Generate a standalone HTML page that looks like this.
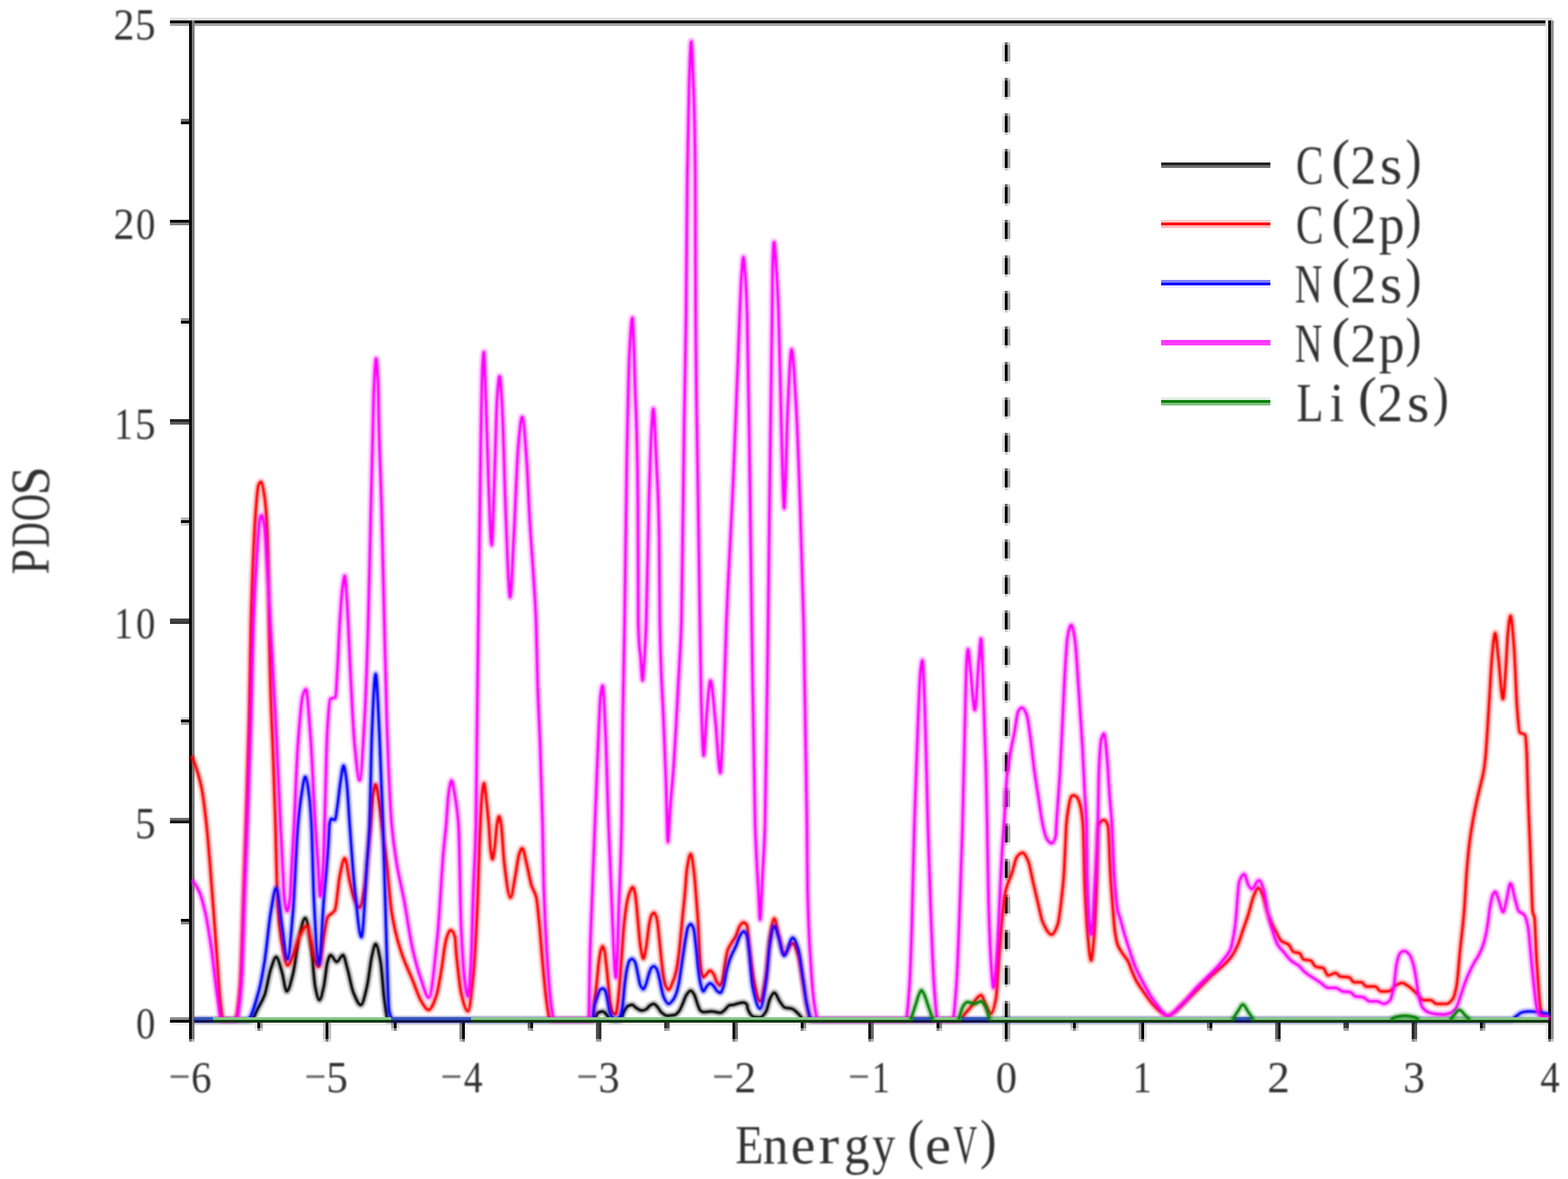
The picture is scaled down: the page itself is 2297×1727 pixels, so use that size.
<!DOCTYPE html>
<html lang="en"><head><meta charset="utf-8"><title>PDOS</title>
<style>html,body{margin:0;padding:0;background:#fff}svg{display:block}text{font-family:"Liberation Serif","Noto Serif CJK SC",serif;fill:#303030}</style></head><body>
<svg xmlns="http://www.w3.org/2000/svg" width="2297" height="1727" viewBox="0 0 2297 1727">
<rect width="2297" height="1727" fill="#fff"/>
<defs><filter id="soft" filterUnits="userSpaceOnUse" x="0" y="0" width="2297" height="1727"><feGaussianBlur stdDeviation="0.8"/></filter></defs>
<g shape-rendering="crispEdges">
<rect x="278.0" y="26.0" width="1995.7" height="4" fill="#dcdcdc"/>
<rect x="278.0" y="30.0" width="1995.7" height="4" fill="#000000"/>
<rect x="278.0" y="34.0" width="1995.7" height="4" fill="#a3a3a3"/>
<rect x="278.0" y="1490.0" width="1995.7" height="4" fill="#868686"/>
<rect x="278.0" y="1494.0" width="1995.7" height="4" fill="#000000"/>
<rect x="278.0" y="1498.0" width="1995.7" height="4" fill="#ececec"/>
<rect x="273.0" y="30.0" width="4" height="1492.0" fill="#f7f7f7"/>
<rect x="277.0" y="30.0" width="4" height="1492.0" fill="#000000"/>
<rect x="281.0" y="30.0" width="4" height="1492.0" fill="#787878"/>
<rect x="273.0" y="1522.0" width="4" height="4.0" fill="#fbfbfb"/>
<rect x="277.0" y="1522.0" width="4" height="4.0" fill="#808080"/>
<rect x="281.0" y="1522.0" width="4" height="4.0" fill="#bbbbbb"/>
<rect x="2264.0" y="30.0" width="4" height="1492.0" fill="#eaeaea"/>
<rect x="2268.0" y="30.0" width="4" height="1492.0" fill="#000000"/>
<rect x="2272.0" y="30.0" width="4" height="1492.0" fill="#919191"/>
<rect x="2264.0" y="1522.0" width="4" height="4.0" fill="#f5f5f5"/>
<rect x="2268.0" y="1522.0" width="4" height="4.0" fill="#808080"/>
<rect x="2272.0" y="1522.0" width="4" height="4.0" fill="#c8c8c8"/>
<rect x="249.0" y="1490.0" width="28.0" height="4" fill="#8c8c8c"/>
<rect x="249.0" y="1494.0" width="28.0" height="4" fill="#000000"/>
<rect x="249.0" y="1498.0" width="28.0" height="4" fill="#f2f2f2"/>
<rect x="265.0" y="1346.0" width="12.0" height="4" fill="#000000"/>
<rect x="265.0" y="1350.0" width="12.0" height="4" fill="#848484"/>
<rect x="249.0" y="1198.0" width="28.0" height="4" fill="#696969"/>
<rect x="249.0" y="1202.0" width="28.0" height="4" fill="#161616"/>
<rect x="265.0" y="1050.0" width="12.0" height="4" fill="#d7d7d7"/>
<rect x="265.0" y="1054.0" width="12.0" height="4" fill="#000000"/>
<rect x="265.0" y="1058.0" width="12.0" height="4" fill="#a7a7a7"/>
<rect x="249.0" y="906.0" width="28.0" height="4" fill="#464646"/>
<rect x="249.0" y="910.0" width="28.0" height="4" fill="#393939"/>
<rect x="265.0" y="758.0" width="12.0" height="4" fill="#b4b4b4"/>
<rect x="265.0" y="762.0" width="12.0" height="4" fill="#000000"/>
<rect x="265.0" y="766.0" width="12.0" height="4" fill="#cacaca"/>
<rect x="249.0" y="614.0" width="28.0" height="4" fill="#232323"/>
<rect x="249.0" y="618.0" width="28.0" height="4" fill="#5c5c5c"/>
<rect x="265.0" y="466.0" width="12.0" height="4" fill="#919191"/>
<rect x="265.0" y="470.0" width="12.0" height="4" fill="#000000"/>
<rect x="265.0" y="474.0" width="12.0" height="4" fill="#ededed"/>
<rect x="249.0" y="322.0" width="28.0" height="4" fill="#000000"/>
<rect x="249.0" y="326.0" width="28.0" height="4" fill="#808080"/>
<rect x="265.0" y="174.0" width="12.0" height="4" fill="#6e6e6e"/>
<rect x="265.0" y="178.0" width="12.0" height="4" fill="#121212"/>
<rect x="249.0" y="26.0" width="28.0" height="4" fill="#dcdcdc"/>
<rect x="249.0" y="30.0" width="28.0" height="4" fill="#000000"/>
<rect x="249.0" y="34.0" width="28.0" height="4" fill="#a3a3a3"/>
<rect x="373.0" y="1498.0" width="4" height="8.0" fill="#e1e1e1"/>
<rect x="377.0" y="1498.0" width="4" height="8.0" fill="#000000"/>
<rect x="381.0" y="1498.0" width="4" height="8.0" fill="#9d9d9d"/>
<rect x="373.0" y="1506.0" width="4" height="4.0" fill="#f0f0f0"/>
<rect x="377.0" y="1506.0" width="4" height="4.0" fill="#808080"/>
<rect x="381.0" y="1506.0" width="4" height="4.0" fill="#cecece"/>
<rect x="473.0" y="1498.0" width="4" height="24.0" fill="#c4c4c4"/>
<rect x="477.0" y="1498.0" width="4" height="24.0" fill="#000000"/>
<rect x="481.0" y="1498.0" width="4" height="24.0" fill="#bbbbbb"/>
<rect x="473.0" y="1522.0" width="4" height="4.0" fill="#e1e1e1"/>
<rect x="477.0" y="1522.0" width="4" height="4.0" fill="#808080"/>
<rect x="481.0" y="1522.0" width="4" height="4.0" fill="#dddddd"/>
<rect x="573.0" y="1498.0" width="4" height="8.0" fill="#a6a6a6"/>
<rect x="577.0" y="1498.0" width="4" height="8.0" fill="#000000"/>
<rect x="581.0" y="1498.0" width="4" height="8.0" fill="#d8d8d8"/>
<rect x="573.0" y="1506.0" width="4" height="4.0" fill="#d3d3d3"/>
<rect x="577.0" y="1506.0" width="4" height="4.0" fill="#808080"/>
<rect x="581.0" y="1506.0" width="4" height="4.0" fill="#ececec"/>
<rect x="673.0" y="1498.0" width="4" height="24.0" fill="#888888"/>
<rect x="677.0" y="1498.0" width="4" height="24.0" fill="#000000"/>
<rect x="681.0" y="1498.0" width="4" height="24.0" fill="#f6f6f6"/>
<rect x="673.0" y="1522.0" width="4" height="4.0" fill="#c4c4c4"/>
<rect x="677.0" y="1522.0" width="4" height="4.0" fill="#808080"/>
<rect x="681.0" y="1522.0" width="4" height="4.0" fill="#fbfbfb"/>
<rect x="773.0" y="1498.0" width="4" height="8.0" fill="#6b6b6b"/>
<rect x="777.0" y="1498.0" width="4" height="8.0" fill="#151515"/>
<rect x="773.0" y="1506.0" width="4" height="4.0" fill="#b5b5b5"/>
<rect x="777.0" y="1506.0" width="4" height="4.0" fill="#8a8a8a"/>
<rect x="873.0" y="1498.0" width="4" height="24.0" fill="#4d4d4d"/>
<rect x="877.0" y="1498.0" width="4" height="24.0" fill="#323232"/>
<rect x="873.0" y="1522.0" width="4" height="4.0" fill="#a6a6a6"/>
<rect x="877.0" y="1522.0" width="4" height="4.0" fill="#999999"/>
<rect x="973.0" y="1498.0" width="4" height="8.0" fill="#2f2f2f"/>
<rect x="977.0" y="1498.0" width="4" height="8.0" fill="#505050"/>
<rect x="973.0" y="1506.0" width="4" height="4.0" fill="#979797"/>
<rect x="977.0" y="1506.0" width="4" height="4.0" fill="#a8a8a8"/>
<rect x="1073.0" y="1498.0" width="4" height="24.0" fill="#121212"/>
<rect x="1077.0" y="1498.0" width="4" height="24.0" fill="#6e6e6e"/>
<rect x="1073.0" y="1522.0" width="4" height="4.0" fill="#888888"/>
<rect x="1077.0" y="1522.0" width="4" height="4.0" fill="#b6b6b6"/>
<rect x="1169.0" y="1498.0" width="4" height="8.0" fill="#f3f3f3"/>
<rect x="1173.0" y="1498.0" width="4" height="8.0" fill="#000000"/>
<rect x="1177.0" y="1498.0" width="4" height="8.0" fill="#8b8b8b"/>
<rect x="1169.0" y="1506.0" width="4" height="4.0" fill="#f9f9f9"/>
<rect x="1173.0" y="1506.0" width="4" height="4.0" fill="#808080"/>
<rect x="1177.0" y="1506.0" width="4" height="4.0" fill="#c5c5c5"/>
<rect x="1272.0" y="1498.0" width="4" height="24.0" fill="#161616"/>
<rect x="1276.0" y="1498.0" width="4" height="24.0" fill="#696969"/>
<rect x="1272.0" y="1522.0" width="4" height="4.0" fill="#8b8b8b"/>
<rect x="1276.0" y="1522.0" width="4" height="4.0" fill="#b4b4b4"/>
<rect x="1368.0" y="1498.0" width="4" height="8.0" fill="#f8f8f8"/>
<rect x="1372.0" y="1498.0" width="4" height="8.0" fill="#000000"/>
<rect x="1376.0" y="1498.0" width="4" height="8.0" fill="#878787"/>
<rect x="1368.0" y="1506.0" width="4" height="4.0" fill="#fbfbfb"/>
<rect x="1372.0" y="1506.0" width="4" height="4.0" fill="#808080"/>
<rect x="1376.0" y="1506.0" width="4" height="4.0" fill="#c3c3c3"/>
<rect x="1468.0" y="1498.0" width="4" height="24.0" fill="#dadada"/>
<rect x="1472.0" y="1498.0" width="4" height="24.0" fill="#000000"/>
<rect x="1476.0" y="1498.0" width="4" height="24.0" fill="#a4a4a4"/>
<rect x="1468.0" y="1522.0" width="4" height="4.0" fill="#ededed"/>
<rect x="1472.0" y="1522.0" width="4" height="4.0" fill="#808080"/>
<rect x="1476.0" y="1522.0" width="4" height="4.0" fill="#d2d2d2"/>
<rect x="1568.0" y="1498.0" width="4" height="8.0" fill="#bcbcbc"/>
<rect x="1572.0" y="1498.0" width="4" height="8.0" fill="#000000"/>
<rect x="1576.0" y="1498.0" width="4" height="8.0" fill="#c2c2c2"/>
<rect x="1568.0" y="1506.0" width="4" height="4.0" fill="#dedede"/>
<rect x="1572.0" y="1506.0" width="4" height="4.0" fill="#808080"/>
<rect x="1576.0" y="1506.0" width="4" height="4.0" fill="#e1e1e1"/>
<rect x="1668.0" y="1498.0" width="4" height="24.0" fill="#9f9f9f"/>
<rect x="1672.0" y="1498.0" width="4" height="24.0" fill="#000000"/>
<rect x="1676.0" y="1498.0" width="4" height="24.0" fill="#e0e0e0"/>
<rect x="1668.0" y="1522.0" width="4" height="4.0" fill="#cfcfcf"/>
<rect x="1672.0" y="1522.0" width="4" height="4.0" fill="#808080"/>
<rect x="1676.0" y="1522.0" width="4" height="4.0" fill="#efefef"/>
<rect x="1768.0" y="1498.0" width="4" height="8.0" fill="#818181"/>
<rect x="1772.0" y="1498.0" width="4" height="8.0" fill="#000000"/>
<rect x="1768.0" y="1506.0" width="4" height="4.0" fill="#c0c0c0"/>
<rect x="1772.0" y="1506.0" width="4" height="4.0" fill="#808080"/>
<rect x="1868.0" y="1498.0" width="4" height="24.0" fill="#636363"/>
<rect x="1872.0" y="1498.0" width="4" height="24.0" fill="#1c1c1c"/>
<rect x="1868.0" y="1522.0" width="4" height="4.0" fill="#b1b1b1"/>
<rect x="1872.0" y="1522.0" width="4" height="4.0" fill="#8e8e8e"/>
<rect x="1968.0" y="1498.0" width="4" height="8.0" fill="#464646"/>
<rect x="1972.0" y="1498.0" width="4" height="8.0" fill="#3a3a3a"/>
<rect x="1968.0" y="1506.0" width="4" height="4.0" fill="#a2a2a2"/>
<rect x="1972.0" y="1506.0" width="4" height="4.0" fill="#9c9c9c"/>
<rect x="2068.0" y="1498.0" width="4" height="24.0" fill="#282828"/>
<rect x="2072.0" y="1498.0" width="4" height="24.0" fill="#575757"/>
<rect x="2068.0" y="1522.0" width="4" height="4.0" fill="#949494"/>
<rect x="2072.0" y="1522.0" width="4" height="4.0" fill="#ababab"/>
<rect x="2168.0" y="1498.0" width="4" height="8.0" fill="#0b0b0b"/>
<rect x="2172.0" y="1498.0" width="4" height="8.0" fill="#757575"/>
<rect x="2168.0" y="1506.0" width="4" height="4.0" fill="#858585"/>
<rect x="2172.0" y="1506.0" width="4" height="4.0" fill="#bababa"/>
<rect x="1468.0" y="62.0" width="4" height="4.0" fill="#e9e9e9"/>
<rect x="1472.0" y="62.0" width="4" height="4.0" fill="#666666"/>
<rect x="1476.0" y="62.0" width="4" height="4.0" fill="#c9c9c9"/>
<rect x="1468.0" y="66.0" width="4" height="24.0" fill="#dadada"/>
<rect x="1472.0" y="66.0" width="4" height="24.0" fill="#000000"/>
<rect x="1476.0" y="66.0" width="4" height="24.0" fill="#a4a4a4"/>
<rect x="1468.0" y="90.0" width="4" height="4.0" fill="#f8f8f8"/>
<rect x="1472.0" y="90.0" width="4" height="4.0" fill="#cccccc"/>
<rect x="1476.0" y="90.0" width="4" height="4.0" fill="#ededed"/>
<rect x="1468.0" y="114.0" width="4" height="4.0" fill="#e9e9e9"/>
<rect x="1472.0" y="114.0" width="4" height="4.0" fill="#666666"/>
<rect x="1476.0" y="114.0" width="4" height="4.0" fill="#c9c9c9"/>
<rect x="1468.0" y="118.0" width="4" height="24.0" fill="#dadada"/>
<rect x="1472.0" y="118.0" width="4" height="24.0" fill="#000000"/>
<rect x="1476.0" y="118.0" width="4" height="24.0" fill="#a4a4a4"/>
<rect x="1468.0" y="142.0" width="4" height="4.0" fill="#f8f8f8"/>
<rect x="1472.0" y="142.0" width="4" height="4.0" fill="#cccccc"/>
<rect x="1476.0" y="142.0" width="4" height="4.0" fill="#ededed"/>
<rect x="1468.0" y="166.0" width="4" height="4.0" fill="#e9e9e9"/>
<rect x="1472.0" y="166.0" width="4" height="4.0" fill="#666666"/>
<rect x="1476.0" y="166.0" width="4" height="4.0" fill="#c9c9c9"/>
<rect x="1468.0" y="170.0" width="4" height="24.0" fill="#dadada"/>
<rect x="1472.0" y="170.0" width="4" height="24.0" fill="#000000"/>
<rect x="1476.0" y="170.0" width="4" height="24.0" fill="#a4a4a4"/>
<rect x="1468.0" y="194.0" width="4" height="4.0" fill="#f8f8f8"/>
<rect x="1472.0" y="194.0" width="4" height="4.0" fill="#cccccc"/>
<rect x="1476.0" y="194.0" width="4" height="4.0" fill="#ededed"/>
<rect x="1468.0" y="218.0" width="4" height="4.0" fill="#e9e9e9"/>
<rect x="1472.0" y="218.0" width="4" height="4.0" fill="#666666"/>
<rect x="1476.0" y="218.0" width="4" height="4.0" fill="#c9c9c9"/>
<rect x="1468.0" y="222.0" width="4" height="24.0" fill="#dadada"/>
<rect x="1472.0" y="222.0" width="4" height="24.0" fill="#000000"/>
<rect x="1476.0" y="222.0" width="4" height="24.0" fill="#a4a4a4"/>
<rect x="1468.0" y="246.0" width="4" height="4.0" fill="#f8f8f8"/>
<rect x="1472.0" y="246.0" width="4" height="4.0" fill="#cccccc"/>
<rect x="1476.0" y="246.0" width="4" height="4.0" fill="#ededed"/>
<rect x="1468.0" y="270.0" width="4" height="4.0" fill="#e9e9e9"/>
<rect x="1472.0" y="270.0" width="4" height="4.0" fill="#666666"/>
<rect x="1476.0" y="270.0" width="4" height="4.0" fill="#c9c9c9"/>
<rect x="1468.0" y="274.0" width="4" height="24.0" fill="#dadada"/>
<rect x="1472.0" y="274.0" width="4" height="24.0" fill="#000000"/>
<rect x="1476.0" y="274.0" width="4" height="24.0" fill="#a4a4a4"/>
<rect x="1468.0" y="298.0" width="4" height="4.0" fill="#f8f8f8"/>
<rect x="1472.0" y="298.0" width="4" height="4.0" fill="#cccccc"/>
<rect x="1476.0" y="298.0" width="4" height="4.0" fill="#ededed"/>
<rect x="1468.0" y="322.0" width="4" height="4.0" fill="#e9e9e9"/>
<rect x="1472.0" y="322.0" width="4" height="4.0" fill="#666666"/>
<rect x="1476.0" y="322.0" width="4" height="4.0" fill="#c9c9c9"/>
<rect x="1468.0" y="326.0" width="4" height="24.0" fill="#dadada"/>
<rect x="1472.0" y="326.0" width="4" height="24.0" fill="#000000"/>
<rect x="1476.0" y="326.0" width="4" height="24.0" fill="#a4a4a4"/>
<rect x="1468.0" y="350.0" width="4" height="4.0" fill="#f8f8f8"/>
<rect x="1472.0" y="350.0" width="4" height="4.0" fill="#cccccc"/>
<rect x="1476.0" y="350.0" width="4" height="4.0" fill="#ededed"/>
<rect x="1468.0" y="374.0" width="4" height="4.0" fill="#e9e9e9"/>
<rect x="1472.0" y="374.0" width="4" height="4.0" fill="#666666"/>
<rect x="1476.0" y="374.0" width="4" height="4.0" fill="#c9c9c9"/>
<rect x="1468.0" y="378.0" width="4" height="24.0" fill="#dadada"/>
<rect x="1472.0" y="378.0" width="4" height="24.0" fill="#000000"/>
<rect x="1476.0" y="378.0" width="4" height="24.0" fill="#a4a4a4"/>
<rect x="1468.0" y="402.0" width="4" height="4.0" fill="#f8f8f8"/>
<rect x="1472.0" y="402.0" width="4" height="4.0" fill="#cccccc"/>
<rect x="1476.0" y="402.0" width="4" height="4.0" fill="#ededed"/>
<rect x="1468.0" y="426.0" width="4" height="4.0" fill="#e9e9e9"/>
<rect x="1472.0" y="426.0" width="4" height="4.0" fill="#666666"/>
<rect x="1476.0" y="426.0" width="4" height="4.0" fill="#c9c9c9"/>
<rect x="1468.0" y="430.0" width="4" height="24.0" fill="#dadada"/>
<rect x="1472.0" y="430.0" width="4" height="24.0" fill="#000000"/>
<rect x="1476.0" y="430.0" width="4" height="24.0" fill="#a4a4a4"/>
<rect x="1468.0" y="454.0" width="4" height="4.0" fill="#f8f8f8"/>
<rect x="1472.0" y="454.0" width="4" height="4.0" fill="#cccccc"/>
<rect x="1476.0" y="454.0" width="4" height="4.0" fill="#ededed"/>
<rect x="1468.0" y="478.0" width="4" height="4.0" fill="#e9e9e9"/>
<rect x="1472.0" y="478.0" width="4" height="4.0" fill="#666666"/>
<rect x="1476.0" y="478.0" width="4" height="4.0" fill="#c9c9c9"/>
<rect x="1468.0" y="482.0" width="4" height="24.0" fill="#dadada"/>
<rect x="1472.0" y="482.0" width="4" height="24.0" fill="#000000"/>
<rect x="1476.0" y="482.0" width="4" height="24.0" fill="#a4a4a4"/>
<rect x="1468.0" y="506.0" width="4" height="4.0" fill="#f8f8f8"/>
<rect x="1472.0" y="506.0" width="4" height="4.0" fill="#cccccc"/>
<rect x="1476.0" y="506.0" width="4" height="4.0" fill="#ededed"/>
<rect x="1468.0" y="530.0" width="4" height="4.0" fill="#e9e9e9"/>
<rect x="1472.0" y="530.0" width="4" height="4.0" fill="#666666"/>
<rect x="1476.0" y="530.0" width="4" height="4.0" fill="#c9c9c9"/>
<rect x="1468.0" y="534.0" width="4" height="24.0" fill="#dadada"/>
<rect x="1472.0" y="534.0" width="4" height="24.0" fill="#000000"/>
<rect x="1476.0" y="534.0" width="4" height="24.0" fill="#a4a4a4"/>
<rect x="1468.0" y="558.0" width="4" height="4.0" fill="#f8f8f8"/>
<rect x="1472.0" y="558.0" width="4" height="4.0" fill="#cccccc"/>
<rect x="1476.0" y="558.0" width="4" height="4.0" fill="#ededed"/>
<rect x="1468.0" y="582.0" width="4" height="4.0" fill="#e9e9e9"/>
<rect x="1472.0" y="582.0" width="4" height="4.0" fill="#666666"/>
<rect x="1476.0" y="582.0" width="4" height="4.0" fill="#c9c9c9"/>
<rect x="1468.0" y="586.0" width="4" height="24.0" fill="#dadada"/>
<rect x="1472.0" y="586.0" width="4" height="24.0" fill="#000000"/>
<rect x="1476.0" y="586.0" width="4" height="24.0" fill="#a4a4a4"/>
<rect x="1468.0" y="610.0" width="4" height="4.0" fill="#f8f8f8"/>
<rect x="1472.0" y="610.0" width="4" height="4.0" fill="#cccccc"/>
<rect x="1476.0" y="610.0" width="4" height="4.0" fill="#ededed"/>
<rect x="1468.0" y="634.0" width="4" height="4.0" fill="#e9e9e9"/>
<rect x="1472.0" y="634.0" width="4" height="4.0" fill="#666666"/>
<rect x="1476.0" y="634.0" width="4" height="4.0" fill="#c9c9c9"/>
<rect x="1468.0" y="638.0" width="4" height="24.0" fill="#dadada"/>
<rect x="1472.0" y="638.0" width="4" height="24.0" fill="#000000"/>
<rect x="1476.0" y="638.0" width="4" height="24.0" fill="#a4a4a4"/>
<rect x="1468.0" y="662.0" width="4" height="4.0" fill="#f8f8f8"/>
<rect x="1472.0" y="662.0" width="4" height="4.0" fill="#cccccc"/>
<rect x="1476.0" y="662.0" width="4" height="4.0" fill="#ededed"/>
<rect x="1468.0" y="686.0" width="4" height="4.0" fill="#e9e9e9"/>
<rect x="1472.0" y="686.0" width="4" height="4.0" fill="#666666"/>
<rect x="1476.0" y="686.0" width="4" height="4.0" fill="#c9c9c9"/>
<rect x="1468.0" y="690.0" width="4" height="24.0" fill="#dadada"/>
<rect x="1472.0" y="690.0" width="4" height="24.0" fill="#000000"/>
<rect x="1476.0" y="690.0" width="4" height="24.0" fill="#a4a4a4"/>
<rect x="1468.0" y="714.0" width="4" height="4.0" fill="#f8f8f8"/>
<rect x="1472.0" y="714.0" width="4" height="4.0" fill="#cccccc"/>
<rect x="1476.0" y="714.0" width="4" height="4.0" fill="#ededed"/>
<rect x="1468.0" y="738.0" width="4" height="4.0" fill="#e9e9e9"/>
<rect x="1472.0" y="738.0" width="4" height="4.0" fill="#666666"/>
<rect x="1476.0" y="738.0" width="4" height="4.0" fill="#c9c9c9"/>
<rect x="1468.0" y="742.0" width="4" height="24.0" fill="#dadada"/>
<rect x="1472.0" y="742.0" width="4" height="24.0" fill="#000000"/>
<rect x="1476.0" y="742.0" width="4" height="24.0" fill="#a4a4a4"/>
<rect x="1468.0" y="766.0" width="4" height="4.0" fill="#f8f8f8"/>
<rect x="1472.0" y="766.0" width="4" height="4.0" fill="#cccccc"/>
<rect x="1476.0" y="766.0" width="4" height="4.0" fill="#ededed"/>
<rect x="1468.0" y="790.0" width="4" height="4.0" fill="#e9e9e9"/>
<rect x="1472.0" y="790.0" width="4" height="4.0" fill="#666666"/>
<rect x="1476.0" y="790.0" width="4" height="4.0" fill="#c9c9c9"/>
<rect x="1468.0" y="794.0" width="4" height="24.0" fill="#dadada"/>
<rect x="1472.0" y="794.0" width="4" height="24.0" fill="#000000"/>
<rect x="1476.0" y="794.0" width="4" height="24.0" fill="#a4a4a4"/>
<rect x="1468.0" y="818.0" width="4" height="4.0" fill="#f8f8f8"/>
<rect x="1472.0" y="818.0" width="4" height="4.0" fill="#cccccc"/>
<rect x="1476.0" y="818.0" width="4" height="4.0" fill="#ededed"/>
<rect x="1468.0" y="842.0" width="4" height="4.0" fill="#e9e9e9"/>
<rect x="1472.0" y="842.0" width="4" height="4.0" fill="#666666"/>
<rect x="1476.0" y="842.0" width="4" height="4.0" fill="#c9c9c9"/>
<rect x="1468.0" y="846.0" width="4" height="24.0" fill="#dadada"/>
<rect x="1472.0" y="846.0" width="4" height="24.0" fill="#000000"/>
<rect x="1476.0" y="846.0" width="4" height="24.0" fill="#a4a4a4"/>
<rect x="1468.0" y="870.0" width="4" height="4.0" fill="#f8f8f8"/>
<rect x="1472.0" y="870.0" width="4" height="4.0" fill="#cccccc"/>
<rect x="1476.0" y="870.0" width="4" height="4.0" fill="#ededed"/>
<rect x="1468.0" y="894.0" width="4" height="4.0" fill="#e9e9e9"/>
<rect x="1472.0" y="894.0" width="4" height="4.0" fill="#666666"/>
<rect x="1476.0" y="894.0" width="4" height="4.0" fill="#c9c9c9"/>
<rect x="1468.0" y="898.0" width="4" height="24.0" fill="#dadada"/>
<rect x="1472.0" y="898.0" width="4" height="24.0" fill="#000000"/>
<rect x="1476.0" y="898.0" width="4" height="24.0" fill="#a4a4a4"/>
<rect x="1468.0" y="922.0" width="4" height="4.0" fill="#f8f8f8"/>
<rect x="1472.0" y="922.0" width="4" height="4.0" fill="#cccccc"/>
<rect x="1476.0" y="922.0" width="4" height="4.0" fill="#ededed"/>
<rect x="1468.0" y="946.0" width="4" height="4.0" fill="#e9e9e9"/>
<rect x="1472.0" y="946.0" width="4" height="4.0" fill="#666666"/>
<rect x="1476.0" y="946.0" width="4" height="4.0" fill="#c9c9c9"/>
<rect x="1468.0" y="950.0" width="4" height="24.0" fill="#dadada"/>
<rect x="1472.0" y="950.0" width="4" height="24.0" fill="#000000"/>
<rect x="1476.0" y="950.0" width="4" height="24.0" fill="#a4a4a4"/>
<rect x="1468.0" y="974.0" width="4" height="4.0" fill="#f8f8f8"/>
<rect x="1472.0" y="974.0" width="4" height="4.0" fill="#cccccc"/>
<rect x="1476.0" y="974.0" width="4" height="4.0" fill="#ededed"/>
<rect x="1468.0" y="998.0" width="4" height="4.0" fill="#e9e9e9"/>
<rect x="1472.0" y="998.0" width="4" height="4.0" fill="#666666"/>
<rect x="1476.0" y="998.0" width="4" height="4.0" fill="#c9c9c9"/>
<rect x="1468.0" y="1002.0" width="4" height="24.0" fill="#dadada"/>
<rect x="1472.0" y="1002.0" width="4" height="24.0" fill="#000000"/>
<rect x="1476.0" y="1002.0" width="4" height="24.0" fill="#a4a4a4"/>
<rect x="1468.0" y="1026.0" width="4" height="4.0" fill="#f8f8f8"/>
<rect x="1472.0" y="1026.0" width="4" height="4.0" fill="#cccccc"/>
<rect x="1476.0" y="1026.0" width="4" height="4.0" fill="#ededed"/>
<rect x="1468.0" y="1050.0" width="4" height="4.0" fill="#e9e9e9"/>
<rect x="1472.0" y="1050.0" width="4" height="4.0" fill="#666666"/>
<rect x="1476.0" y="1050.0" width="4" height="4.0" fill="#c9c9c9"/>
<rect x="1468.0" y="1054.0" width="4" height="24.0" fill="#dadada"/>
<rect x="1472.0" y="1054.0" width="4" height="24.0" fill="#000000"/>
<rect x="1476.0" y="1054.0" width="4" height="24.0" fill="#a4a4a4"/>
<rect x="1468.0" y="1078.0" width="4" height="4.0" fill="#f8f8f8"/>
<rect x="1472.0" y="1078.0" width="4" height="4.0" fill="#cccccc"/>
<rect x="1476.0" y="1078.0" width="4" height="4.0" fill="#ededed"/>
<rect x="1468.0" y="1102.0" width="4" height="4.0" fill="#e9e9e9"/>
<rect x="1472.0" y="1102.0" width="4" height="4.0" fill="#666666"/>
<rect x="1476.0" y="1102.0" width="4" height="4.0" fill="#c9c9c9"/>
<rect x="1468.0" y="1106.0" width="4" height="24.0" fill="#dadada"/>
<rect x="1472.0" y="1106.0" width="4" height="24.0" fill="#000000"/>
<rect x="1476.0" y="1106.0" width="4" height="24.0" fill="#a4a4a4"/>
<rect x="1468.0" y="1130.0" width="4" height="4.0" fill="#f8f8f8"/>
<rect x="1472.0" y="1130.0" width="4" height="4.0" fill="#cccccc"/>
<rect x="1476.0" y="1130.0" width="4" height="4.0" fill="#ededed"/>
<rect x="1468.0" y="1154.0" width="4" height="4.0" fill="#e9e9e9"/>
<rect x="1472.0" y="1154.0" width="4" height="4.0" fill="#666666"/>
<rect x="1476.0" y="1154.0" width="4" height="4.0" fill="#c9c9c9"/>
<rect x="1468.0" y="1158.0" width="4" height="24.0" fill="#dadada"/>
<rect x="1472.0" y="1158.0" width="4" height="24.0" fill="#000000"/>
<rect x="1476.0" y="1158.0" width="4" height="24.0" fill="#a4a4a4"/>
<rect x="1468.0" y="1182.0" width="4" height="4.0" fill="#f8f8f8"/>
<rect x="1472.0" y="1182.0" width="4" height="4.0" fill="#cccccc"/>
<rect x="1476.0" y="1182.0" width="4" height="4.0" fill="#ededed"/>
<rect x="1468.0" y="1206.0" width="4" height="4.0" fill="#e9e9e9"/>
<rect x="1472.0" y="1206.0" width="4" height="4.0" fill="#666666"/>
<rect x="1476.0" y="1206.0" width="4" height="4.0" fill="#c9c9c9"/>
<rect x="1468.0" y="1210.0" width="4" height="24.0" fill="#dadada"/>
<rect x="1472.0" y="1210.0" width="4" height="24.0" fill="#000000"/>
<rect x="1476.0" y="1210.0" width="4" height="24.0" fill="#a4a4a4"/>
<rect x="1468.0" y="1234.0" width="4" height="4.0" fill="#f8f8f8"/>
<rect x="1472.0" y="1234.0" width="4" height="4.0" fill="#cccccc"/>
<rect x="1476.0" y="1234.0" width="4" height="4.0" fill="#ededed"/>
<rect x="1468.0" y="1258.0" width="4" height="4.0" fill="#e9e9e9"/>
<rect x="1472.0" y="1258.0" width="4" height="4.0" fill="#666666"/>
<rect x="1476.0" y="1258.0" width="4" height="4.0" fill="#c9c9c9"/>
<rect x="1468.0" y="1262.0" width="4" height="24.0" fill="#dadada"/>
<rect x="1472.0" y="1262.0" width="4" height="24.0" fill="#000000"/>
<rect x="1476.0" y="1262.0" width="4" height="24.0" fill="#a4a4a4"/>
<rect x="1468.0" y="1286.0" width="4" height="4.0" fill="#f8f8f8"/>
<rect x="1472.0" y="1286.0" width="4" height="4.0" fill="#cccccc"/>
<rect x="1476.0" y="1286.0" width="4" height="4.0" fill="#ededed"/>
<rect x="1468.0" y="1310.0" width="4" height="4.0" fill="#e9e9e9"/>
<rect x="1472.0" y="1310.0" width="4" height="4.0" fill="#666666"/>
<rect x="1476.0" y="1310.0" width="4" height="4.0" fill="#c9c9c9"/>
<rect x="1468.0" y="1314.0" width="4" height="24.0" fill="#dadada"/>
<rect x="1472.0" y="1314.0" width="4" height="24.0" fill="#000000"/>
<rect x="1476.0" y="1314.0" width="4" height="24.0" fill="#a4a4a4"/>
<rect x="1468.0" y="1338.0" width="4" height="4.0" fill="#f8f8f8"/>
<rect x="1472.0" y="1338.0" width="4" height="4.0" fill="#cccccc"/>
<rect x="1476.0" y="1338.0" width="4" height="4.0" fill="#ededed"/>
<rect x="1468.0" y="1362.0" width="4" height="4.0" fill="#e9e9e9"/>
<rect x="1472.0" y="1362.0" width="4" height="4.0" fill="#666666"/>
<rect x="1476.0" y="1362.0" width="4" height="4.0" fill="#c9c9c9"/>
<rect x="1468.0" y="1366.0" width="4" height="24.0" fill="#dadada"/>
<rect x="1472.0" y="1366.0" width="4" height="24.0" fill="#000000"/>
<rect x="1476.0" y="1366.0" width="4" height="24.0" fill="#a4a4a4"/>
<rect x="1468.0" y="1390.0" width="4" height="4.0" fill="#f8f8f8"/>
<rect x="1472.0" y="1390.0" width="4" height="4.0" fill="#cccccc"/>
<rect x="1476.0" y="1390.0" width="4" height="4.0" fill="#ededed"/>
<rect x="1468.0" y="1414.0" width="4" height="4.0" fill="#e9e9e9"/>
<rect x="1472.0" y="1414.0" width="4" height="4.0" fill="#666666"/>
<rect x="1476.0" y="1414.0" width="4" height="4.0" fill="#c9c9c9"/>
<rect x="1468.0" y="1418.0" width="4" height="24.0" fill="#dadada"/>
<rect x="1472.0" y="1418.0" width="4" height="24.0" fill="#000000"/>
<rect x="1476.0" y="1418.0" width="4" height="24.0" fill="#a4a4a4"/>
<rect x="1468.0" y="1442.0" width="4" height="4.0" fill="#f8f8f8"/>
<rect x="1472.0" y="1442.0" width="4" height="4.0" fill="#cccccc"/>
<rect x="1476.0" y="1442.0" width="4" height="4.0" fill="#ededed"/>
<rect x="1468.0" y="1466.0" width="4" height="4.0" fill="#e9e9e9"/>
<rect x="1472.0" y="1466.0" width="4" height="4.0" fill="#666666"/>
<rect x="1476.0" y="1466.0" width="4" height="4.0" fill="#c9c9c9"/>
<rect x="1468.0" y="1470.0" width="4" height="24.0" fill="#dadada"/>
<rect x="1472.0" y="1470.0" width="4" height="24.0" fill="#000000"/>
<rect x="1476.0" y="1470.0" width="4" height="24.0" fill="#a4a4a4"/>
</g>
<g filter="url(#soft)">
<g fill="none" stroke-linejoin="round" stroke-linecap="butt">
<path stroke="#000000" stroke-width="11.0" stroke-opacity="0.22" d="M284.5,1494.0C312.2,1494.0 339.9,1494.0 367.6,1494.0C371.3,1494.0 374.9,1482.4 378.5,1475.8C381.5,1470.3 384.5,1465.9 387.5,1457.7C390.6,1449.6 393.6,1428.5 396.6,1419.8C399.3,1411.9 402.0,1401.7 404.7,1401.7C407.4,1401.7 410.1,1414.7 412.9,1423.4C415.3,1431.1 417.7,1452.3 420.1,1452.3C423.1,1452.3 426.1,1438.5 429.1,1427.0C432.1,1415.5 435.2,1385.1 438.2,1372.7C441.2,1360.4 444.2,1344.7 447.2,1344.7C450.2,1344.7 453.2,1369.9 456.3,1390.8C458.1,1403.4 459.9,1436.3 461.7,1445.1C463.8,1455.3 465.9,1465.0 468.0,1465.0C470.1,1465.0 472.2,1454.2 474.3,1445.1C476.1,1437.3 478.0,1414.8 479.8,1408.9C481.3,1404.0 482.8,1399.0 484.3,1399.0C487.3,1399.0 490.3,1408.9 493.3,1408.9C496.3,1408.9 499.4,1399.0 502.4,1399.0C504.5,1399.0 506.6,1410.8 508.7,1418.0C511.7,1428.2 514.7,1446.9 517.7,1454.1C521.4,1462.7 525.0,1472.2 528.6,1472.2C531.6,1472.2 534.6,1457.5 537.6,1445.1C540.0,1435.2 542.5,1409.9 544.9,1399.9C546.7,1392.4 548.5,1382.7 550.3,1382.7C552.7,1382.7 555.1,1395.8 557.5,1408.9C559.3,1418.8 561.1,1450.1 562.9,1463.2C564.8,1476.3 566.6,1494.0 568.4,1494.0C668.8,1494.0 769.3,1494.0 869.8,1494.0C871.9,1494.0 874.1,1484.8 876.3,1483.6C878.4,1482.4 880.6,1481.4 882.8,1481.4C884.6,1481.4 886.4,1484.0 888.2,1485.8C890.4,1487.9 892.5,1494.0 894.7,1494.0C899.4,1494.0 904.1,1494.0 908.8,1494.0C910.6,1494.0 912.4,1484.6 914.2,1481.4C916.1,1478.3 917.9,1474.8 919.7,1473.8C921.8,1472.6 924.0,1471.7 926.2,1471.7C928.0,1471.7 929.8,1474.9 931.6,1476.0C934.5,1477.8 937.4,1480.3 940.3,1480.3C942.5,1480.3 944.6,1479.3 946.8,1478.2C948.6,1477.2 950.4,1473.8 952.2,1472.7C954.0,1471.7 955.8,1470.6 957.6,1470.6C959.5,1470.6 961.3,1473.1 963.1,1474.9C964.9,1476.8 966.7,1480.9 968.5,1482.5C971.4,1485.1 974.3,1487.9 977.2,1487.9C980.8,1487.9 984.4,1487.5 988.0,1486.8C990.2,1486.4 992.4,1484.0 994.5,1481.4C996.3,1479.3 998.2,1474.5 1000.0,1470.6C1001.8,1466.6 1003.6,1460.1 1005.4,1457.6C1007.6,1454.5 1009.7,1451.0 1011.9,1451.0C1013.7,1451.0 1015.5,1454.4 1017.3,1457.6C1018.8,1460.1 1020.2,1466.9 1021.7,1470.6C1023.1,1474.3 1024.6,1479.2 1026.0,1480.3C1027.4,1481.5 1028.9,1482.5 1030.3,1482.5C1034.3,1482.5 1038.3,1481.4 1042.3,1481.4C1046.6,1481.4 1051.0,1483.6 1055.3,1483.6C1057.5,1483.6 1059.6,1481.0 1061.8,1479.3C1064.0,1477.5 1066.1,1473.4 1068.3,1472.7C1070.5,1472.1 1072.7,1472.1 1074.8,1471.7C1077.4,1471.1 1079.9,1470.0 1082.4,1469.5C1084.6,1469.0 1086.8,1468.4 1088.9,1468.4C1090.7,1468.4 1092.5,1469.2 1094.3,1471.7C1094.7,1472.1 1095.0,1476.8 1095.3,1477.6C1098.3,1485.5 1101.3,1488.8 1104.4,1489.4C1107.4,1489.9 1110.4,1490.3 1113.4,1490.3C1116.4,1490.3 1119.4,1486.1 1122.4,1481.2C1124.2,1478.3 1126.1,1466.8 1127.9,1463.2C1130.0,1458.9 1132.1,1454.1 1134.2,1454.1C1136.9,1454.1 1139.6,1463.0 1142.3,1466.8C1144.7,1470.1 1147.2,1475.1 1149.6,1475.8C1153.2,1476.9 1156.8,1476.6 1160.4,1477.6C1163.4,1478.5 1166.4,1482.2 1169.5,1484.9C1172.5,1487.6 1175.5,1494.0 1178.5,1494.0C1542.4,1494.0 1906.4,1494.0 2270.3,1494.0"/>
<path stroke="#000000" stroke-width="4.0" d="M284.5,1494.0C312.2,1494.0 339.9,1494.0 367.6,1494.0C371.3,1494.0 374.9,1482.4 378.5,1475.8C381.5,1470.3 384.5,1465.9 387.5,1457.7C390.6,1449.6 393.6,1428.5 396.6,1419.8C399.3,1411.9 402.0,1401.7 404.7,1401.7C407.4,1401.7 410.1,1414.7 412.9,1423.4C415.3,1431.1 417.7,1452.3 420.1,1452.3C423.1,1452.3 426.1,1438.5 429.1,1427.0C432.1,1415.5 435.2,1385.1 438.2,1372.7C441.2,1360.4 444.2,1344.7 447.2,1344.7C450.2,1344.7 453.2,1369.9 456.3,1390.8C458.1,1403.4 459.9,1436.3 461.7,1445.1C463.8,1455.3 465.9,1465.0 468.0,1465.0C470.1,1465.0 472.2,1454.2 474.3,1445.1C476.1,1437.3 478.0,1414.8 479.8,1408.9C481.3,1404.0 482.8,1399.0 484.3,1399.0C487.3,1399.0 490.3,1408.9 493.3,1408.9C496.3,1408.9 499.4,1399.0 502.4,1399.0C504.5,1399.0 506.6,1410.8 508.7,1418.0C511.7,1428.2 514.7,1446.9 517.7,1454.1C521.4,1462.7 525.0,1472.2 528.6,1472.2C531.6,1472.2 534.6,1457.5 537.6,1445.1C540.0,1435.2 542.5,1409.9 544.9,1399.9C546.7,1392.4 548.5,1382.7 550.3,1382.7C552.7,1382.7 555.1,1395.8 557.5,1408.9C559.3,1418.8 561.1,1450.1 562.9,1463.2C564.8,1476.3 566.6,1494.0 568.4,1494.0C668.8,1494.0 769.3,1494.0 869.8,1494.0C871.9,1494.0 874.1,1484.8 876.3,1483.6C878.4,1482.4 880.6,1481.4 882.8,1481.4C884.6,1481.4 886.4,1484.0 888.2,1485.8C890.4,1487.9 892.5,1494.0 894.7,1494.0C899.4,1494.0 904.1,1494.0 908.8,1494.0C910.6,1494.0 912.4,1484.6 914.2,1481.4C916.1,1478.3 917.9,1474.8 919.7,1473.8C921.8,1472.6 924.0,1471.7 926.2,1471.7C928.0,1471.7 929.8,1474.9 931.6,1476.0C934.5,1477.8 937.4,1480.3 940.3,1480.3C942.5,1480.3 944.6,1479.3 946.8,1478.2C948.6,1477.2 950.4,1473.8 952.2,1472.7C954.0,1471.7 955.8,1470.6 957.6,1470.6C959.5,1470.6 961.3,1473.1 963.1,1474.9C964.9,1476.8 966.7,1480.9 968.5,1482.5C971.4,1485.1 974.3,1487.9 977.2,1487.9C980.8,1487.9 984.4,1487.5 988.0,1486.8C990.2,1486.4 992.4,1484.0 994.5,1481.4C996.3,1479.3 998.2,1474.5 1000.0,1470.6C1001.8,1466.6 1003.6,1460.1 1005.4,1457.6C1007.6,1454.5 1009.7,1451.0 1011.9,1451.0C1013.7,1451.0 1015.5,1454.4 1017.3,1457.6C1018.8,1460.1 1020.2,1466.9 1021.7,1470.6C1023.1,1474.3 1024.6,1479.2 1026.0,1480.3C1027.4,1481.5 1028.9,1482.5 1030.3,1482.5C1034.3,1482.5 1038.3,1481.4 1042.3,1481.4C1046.6,1481.4 1051.0,1483.6 1055.3,1483.6C1057.5,1483.6 1059.6,1481.0 1061.8,1479.3C1064.0,1477.5 1066.1,1473.4 1068.3,1472.7C1070.5,1472.1 1072.7,1472.1 1074.8,1471.7C1077.4,1471.1 1079.9,1470.0 1082.4,1469.5C1084.6,1469.0 1086.8,1468.4 1088.9,1468.4C1090.7,1468.4 1092.5,1469.2 1094.3,1471.7C1094.7,1472.1 1095.0,1476.8 1095.3,1477.6C1098.3,1485.5 1101.3,1488.8 1104.4,1489.4C1107.4,1489.9 1110.4,1490.3 1113.4,1490.3C1116.4,1490.3 1119.4,1486.1 1122.4,1481.2C1124.2,1478.3 1126.1,1466.8 1127.9,1463.2C1130.0,1458.9 1132.1,1454.1 1134.2,1454.1C1136.9,1454.1 1139.6,1463.0 1142.3,1466.8C1144.7,1470.1 1147.2,1475.1 1149.6,1475.8C1153.2,1476.9 1156.8,1476.6 1160.4,1477.6C1163.4,1478.5 1166.4,1482.2 1169.5,1484.9C1172.5,1487.6 1175.5,1494.0 1178.5,1494.0C1542.4,1494.0 1906.4,1494.0 2270.3,1494.0"/>
<path stroke="#ff0000" stroke-width="11.0" stroke-opacity="0.22" d="M280.5,1107.1C283.0,1112.3 285.6,1119.2 288.1,1127.0C290.5,1134.4 292.9,1142.1 295.3,1154.1C297.7,1166.2 300.1,1186.2 302.5,1208.4C305.6,1236.1 308.6,1280.0 311.6,1318.5C313.4,1341.6 315.2,1366.7 317.0,1390.8C318.8,1414.9 320.6,1447.0 322.4,1463.2C323.9,1476.6 325.5,1494.0 327.0,1494.0C332.8,1494.0 338.7,1494.0 344.5,1494.0C346.9,1494.0 349.3,1471.9 351.7,1445.1C353.5,1425.0 355.4,1350.2 357.2,1300.4C358.2,1270.6 359.3,1241.7 360.4,1208.4C361.9,1162.1 363.4,1118.4 364.9,1054.7C365.8,1016.4 366.7,943.7 367.6,910.0C368.9,865.1 370.1,834.9 371.3,808.9C372.5,783.0 373.7,760.5 374.9,745.6C376.1,730.8 377.3,714.4 378.5,711.3C379.7,708.1 380.9,705.8 382.1,705.8C383.9,705.8 385.7,716.2 387.5,727.5C388.7,735.1 390.0,749.2 391.2,772.7C391.9,788.1 392.7,817.8 393.5,863.2C393.7,873.6 393.9,898.8 394.1,910.0C394.9,962.1 395.7,991.4 396.6,1018.5C397.8,1057.2 399.0,1075.7 400.2,1108.9C401.3,1138.8 402.4,1171.2 403.5,1208.4C404.2,1233.1 404.9,1273.4 405.6,1291.4C406.8,1321.3 408.0,1342.7 409.2,1354.7C411.0,1372.7 412.9,1382.1 414.7,1390.8C416.8,1401.0 418.9,1414.3 421.0,1414.3C423.7,1414.3 426.4,1405.9 429.1,1399.9C432.1,1393.2 435.2,1378.8 438.2,1372.7C441.8,1365.4 445.4,1356.5 449.0,1356.5C451.4,1356.5 453.8,1372.1 456.3,1381.8C458.1,1389.1 459.9,1402.7 461.7,1407.1C463.5,1411.5 465.3,1416.1 467.1,1416.1C469.5,1416.1 471.9,1386.3 474.3,1372.7C476.1,1362.6 478.0,1347.1 479.8,1343.8C483.4,1337.2 487.0,1339.6 490.6,1333.0C493.0,1328.5 495.4,1293.6 497.8,1282.3C500.3,1271.1 502.7,1257.0 505.1,1257.0C507.5,1257.0 509.9,1281.3 512.3,1291.4C514.7,1301.5 517.1,1313.3 519.5,1318.5C522.0,1323.7 524.4,1329.3 526.8,1329.3C529.2,1329.3 531.6,1314.5 534.0,1300.4C535.8,1289.9 537.6,1264.7 539.4,1246.2C540.6,1233.8 541.9,1222.1 543.1,1208.4C544.3,1194.6 545.5,1170.5 546.7,1163.2C547.9,1155.9 549.1,1148.7 550.3,1148.7C551.8,1148.7 553.3,1162.7 554.8,1172.2C556.3,1181.7 557.8,1196.5 559.3,1208.4C561.7,1227.3 564.2,1243.2 566.6,1264.2C569.0,1285.3 571.4,1321.6 573.8,1336.6C578.0,1362.9 582.2,1377.3 586.5,1390.8C592.5,1410.2 598.5,1421.2 604.5,1436.0C608.8,1446.4 613.0,1460.2 617.2,1466.8C620.8,1472.4 624.4,1479.4 628.0,1479.4C631.7,1479.4 635.3,1469.5 638.9,1459.5C641.7,1451.9 644.4,1433.8 647.2,1416.9C648.5,1409.2 649.7,1397.2 651.0,1389.7C652.1,1383.4 653.2,1376.5 654.3,1373.5C656.3,1367.9 658.2,1362.6 660.2,1362.6C662.4,1362.6 664.6,1365.4 666.7,1373.5C667.1,1374.8 667.5,1385.3 667.8,1389.7C668.7,1400.9 669.6,1408.9 670.5,1416.9C672.2,1431.1 673.8,1447.2 675.4,1454.1C678.7,1468.2 682.1,1481.2 685.4,1481.2C688.1,1481.2 690.8,1453.6 693.5,1427.0C695.3,1409.3 697.1,1374.7 698.9,1336.6C700.4,1304.9 701.9,1241.6 703.5,1210.0C704.4,1191.1 705.3,1171.2 706.2,1163.2C707.1,1155.1 708.0,1146.9 708.9,1146.9C710.1,1146.9 711.3,1162.3 712.5,1172.2C713.7,1182.1 714.9,1194.2 716.1,1208.4C717.0,1219.0 717.9,1239.8 718.8,1246.2C719.7,1252.5 720.6,1258.8 721.5,1258.8C722.7,1258.8 723.9,1246.5 725.2,1237.1C726.1,1230.1 727.0,1213.6 727.9,1208.4C729.0,1202.1 730.0,1195.7 731.1,1195.7C732.1,1195.7 733.2,1202.2 734.2,1208.4C735.7,1217.4 737.2,1252.1 738.7,1264.2C741.7,1288.5 744.7,1314.9 747.8,1314.9C750.2,1314.9 752.6,1294.5 755.0,1282.3C756.8,1273.2 758.6,1256.9 760.4,1251.6C761.9,1247.2 763.4,1242.5 764.9,1242.5C767.0,1242.5 769.2,1256.1 771.3,1264.2C773.7,1273.6 776.1,1289.0 778.5,1296.8C780.9,1304.5 783.3,1305.0 785.7,1314.9C786.9,1319.8 788.1,1333.9 789.3,1345.6C791.2,1363.2 793.0,1389.4 794.8,1408.9C796.6,1428.4 798.4,1449.7 800.2,1463.2C801.7,1474.4 803.2,1487.7 804.7,1490.3C805.9,1492.3 807.1,1494.0 808.3,1494.0C828.3,1494.0 848.2,1494.0 868.1,1494.0C869.0,1494.0 869.9,1475.5 870.8,1467.3C871.9,1457.5 873.0,1450.1 874.1,1440.2C875.2,1430.3 876.3,1415.2 877.4,1407.6C878.4,1400.1 879.5,1393.3 880.6,1390.3C881.3,1388.2 882.1,1385.9 882.8,1385.9C883.7,1385.9 884.6,1389.2 885.5,1392.5C886.4,1395.8 887.3,1405.3 888.2,1413.1C889.3,1422.4 890.4,1435.8 891.5,1445.6C892.5,1455.5 893.6,1467.6 894.7,1472.7C895.8,1477.9 896.9,1482.5 898.0,1483.6C899.2,1484.8 900.5,1485.8 901.8,1485.8C902.7,1485.8 903.6,1478.5 904.5,1472.7C905.6,1465.8 906.7,1452.6 907.7,1440.2C908.8,1427.8 909.9,1411.3 911.0,1396.8C912.1,1382.3 913.2,1364.0 914.2,1353.4C915.7,1339.3 917.1,1327.8 918.6,1320.8C920.0,1313.9 921.5,1308.8 922.9,1305.7C924.2,1302.8 925.5,1299.5 926.8,1299.5C928.1,1299.5 929.3,1304.6 930.5,1310.0C932.0,1316.3 933.4,1338.9 934.9,1353.4C935.9,1364.2 937.0,1379.3 938.1,1385.9C939.6,1394.7 941.0,1404.4 942.5,1404.4C943.9,1404.4 945.3,1393.8 946.8,1385.9C948.2,1378.1 949.7,1360.8 951.1,1353.4C952.2,1347.8 953.3,1341.9 954.4,1340.4C955.7,1338.6 956.9,1337.1 958.2,1337.1C959.5,1337.1 960.7,1340.6 962.0,1344.7C963.1,1348.2 964.2,1360.3 965.2,1369.7C966.3,1379.1 967.4,1392.4 968.5,1402.2C969.6,1412.1 970.7,1423.2 971.8,1429.3C972.8,1435.5 973.9,1441.0 975.0,1443.4C976.5,1446.7 977.9,1450.0 979.3,1450.0C981.2,1450.0 983.0,1444.3 984.8,1440.2C986.6,1436.1 988.4,1431.3 990.2,1423.9C991.6,1418.0 993.1,1408.0 994.5,1396.8C995.6,1388.4 996.7,1375.1 997.8,1364.2C998.9,1353.4 1000.0,1342.5 1001.0,1331.7C1001.8,1324.5 1002.5,1317.8 1003.2,1310.0C1004.3,1298.8 1005.3,1280.0 1006.3,1273.3C1008.2,1261.7 1010.0,1250.7 1011.8,1250.7C1013.6,1250.7 1015.4,1267.4 1017.2,1282.3C1018.0,1288.6 1018.7,1300.3 1019.5,1310.0C1020.6,1323.7 1021.7,1335.8 1022.7,1353.4C1023.5,1365.1 1024.2,1387.0 1024.9,1396.8C1025.8,1409.0 1026.7,1420.0 1027.6,1423.9C1028.5,1427.9 1029.4,1431.5 1030.3,1431.5C1031.8,1431.5 1033.2,1428.6 1034.7,1427.2C1036.5,1425.4 1038.3,1421.8 1040.1,1421.8C1041.9,1421.8 1043.7,1424.5 1045.5,1427.2C1047.0,1429.3 1048.4,1435.8 1049.9,1438.0C1051.5,1440.5 1053.1,1443.4 1054.7,1443.4C1056.0,1443.4 1057.3,1439.1 1058.5,1434.8C1059.6,1431.0 1060.7,1419.3 1061.8,1413.1C1063.2,1404.7 1064.7,1395.4 1066.1,1391.4C1068.3,1385.4 1070.5,1383.1 1072.7,1379.4C1074.5,1376.4 1076.3,1374.3 1078.1,1370.8C1079.9,1367.2 1081.7,1359.3 1083.5,1356.7C1085.3,1354.0 1087.1,1351.2 1088.9,1351.2C1090.7,1351.2 1092.5,1352.6 1094.3,1355.6C1095.3,1357.1 1096.2,1373.9 1097.1,1381.8C1099.5,1402.3 1101.9,1424.6 1104.4,1436.0C1107.4,1450.3 1110.4,1466.8 1113.4,1466.8C1116.4,1466.8 1119.4,1446.0 1122.4,1427.0C1124.2,1415.6 1126.1,1383.7 1127.9,1372.7C1130.0,1360.0 1132.1,1345.6 1134.2,1345.6C1136.3,1345.6 1138.4,1361.7 1140.5,1369.1C1143.2,1378.7 1145.9,1396.3 1148.7,1396.3C1152.9,1396.3 1157.1,1381.8 1161.3,1381.8C1164.0,1381.8 1166.7,1391.1 1169.5,1399.9C1171.9,1407.7 1174.3,1427.7 1176.7,1441.5C1178.5,1451.8 1180.3,1463.7 1182.1,1472.2C1183.9,1480.7 1185.7,1494.0 1187.5,1494.0C1260.5,1494.0 1333.4,1494.0 1406.3,1494.0C1408.8,1494.0 1411.2,1487.8 1413.6,1484.9C1417.2,1480.5 1420.8,1477.0 1424.4,1472.2C1426.8,1469.0 1429.3,1463.5 1431.7,1461.4C1433.5,1459.7 1435.3,1457.7 1437.1,1457.7C1439.5,1457.7 1441.9,1467.7 1444.3,1472.2C1446.7,1476.7 1449.1,1484.9 1451.6,1484.9C1454.0,1484.9 1456.5,1475.4 1458.9,1463.2C1460.7,1454.2 1462.5,1413.6 1464.4,1390.8C1465.9,1371.8 1467.4,1350.1 1468.9,1336.6C1470.4,1323.0 1471.9,1310.4 1473.4,1304.0C1476.4,1291.3 1479.4,1287.8 1482.4,1278.7C1484.9,1271.4 1487.3,1258.3 1489.7,1255.2C1492.4,1251.8 1495.1,1248.9 1497.8,1248.9C1500.5,1248.9 1503.2,1254.7 1505.9,1260.6C1508.4,1265.9 1510.8,1281.1 1513.2,1291.4C1515.6,1301.6 1518.0,1312.2 1520.4,1322.1C1522.8,1332.1 1525.2,1345.7 1527.6,1351.0C1531.9,1360.3 1536.1,1369.1 1540.3,1369.1C1543.3,1369.1 1546.3,1362.9 1549.3,1354.7C1551.2,1349.7 1553.0,1333.2 1554.8,1318.5C1556.0,1308.7 1557.2,1298.7 1558.4,1282.3C1559.3,1270.1 1560.2,1247.1 1561.1,1228.1C1561.4,1221.8 1561.7,1212.1 1562.0,1208.4C1563.2,1193.5 1564.4,1187.5 1565.6,1181.2C1566.8,1175.0 1568.0,1167.9 1569.2,1166.8C1570.4,1165.7 1571.7,1165.0 1572.9,1165.0C1574.7,1165.0 1576.5,1166.6 1578.3,1168.6C1579.8,1170.2 1581.3,1175.0 1582.8,1181.2C1584.0,1186.2 1585.2,1193.1 1586.4,1208.4C1587.3,1219.8 1588.2,1280.1 1589.1,1300.4C1590.6,1334.2 1592.1,1357.2 1593.7,1372.7C1595.2,1388.3 1596.7,1407.1 1598.2,1407.1C1599.7,1407.1 1601.2,1389.6 1602.7,1372.7C1603.9,1359.2 1605.1,1330.9 1606.3,1300.4C1607.2,1277.5 1608.1,1212.3 1609.0,1210.0C1611.7,1203.2 1614.4,1201.1 1617.2,1201.1C1619.2,1201.1 1621.1,1204.1 1623.1,1210.0C1624.3,1213.6 1625.5,1262.7 1626.7,1282.3C1628.1,1303.9 1629.4,1320.3 1630.7,1336.6C1631.5,1346.0 1632.3,1357.0 1633.0,1362.5C1634.5,1373.0 1635.9,1380.4 1637.4,1384.2C1639.9,1391.0 1642.4,1393.3 1645.0,1397.3C1647.5,1401.2 1650.0,1403.4 1652.5,1408.1C1654.4,1411.5 1656.2,1417.9 1658.0,1422.2C1660.5,1428.2 1663.0,1434.0 1665.6,1438.5C1668.5,1443.6 1671.4,1447.3 1674.2,1451.5C1677.9,1456.8 1681.5,1462.2 1685.1,1466.7C1688.7,1471.2 1692.3,1475.4 1695.9,1478.6C1698.8,1481.2 1701.7,1483.6 1704.6,1485.1C1706.8,1486.3 1709.0,1487.9 1711.1,1487.9C1713.3,1487.9 1715.5,1485.9 1717.6,1484.6C1721.3,1482.4 1724.9,1478.7 1728.5,1475.4C1732.1,1472.1 1735.7,1468.2 1739.3,1464.5C1743.0,1460.9 1746.6,1457.3 1750.2,1453.7C1753.8,1450.1 1757.4,1446.5 1761.0,1442.8C1764.7,1439.2 1768.3,1435.4 1771.9,1432.0C1775.5,1428.6 1779.1,1425.5 1782.7,1422.2C1786.4,1419.0 1790.0,1416.0 1793.6,1412.5C1797.2,1408.9 1800.8,1405.6 1804.4,1400.5C1807.3,1396.5 1810.2,1390.8 1813.1,1384.2C1815.7,1378.5 1818.2,1369.8 1820.7,1362.5C1823.2,1355.3 1825.8,1348.7 1828.3,1340.8C1831.2,1331.9 1834.1,1317.8 1837.0,1311.3C1839.1,1306.5 1841.2,1300.4 1843.3,1300.4C1845.5,1300.4 1847.6,1306.4 1849.7,1311.3C1852.1,1316.8 1854.5,1329.3 1856.9,1336.6C1858.7,1342.0 1860.5,1346.9 1862.3,1351.0C1864.7,1356.6 1867.2,1361.0 1869.6,1365.5C1872.0,1370.0 1874.4,1376.2 1876.8,1378.2C1880.4,1381.1 1884.0,1380.8 1887.6,1383.6C1890.1,1385.5 1892.5,1393.6 1894.9,1394.4C1897.9,1395.5 1900.9,1395.1 1903.9,1396.3C1905.7,1396.9 1907.5,1404.7 1909.3,1405.3C1913.0,1406.5 1916.6,1406.0 1920.2,1407.1C1922.6,1407.9 1925.0,1415.4 1927.4,1416.1C1931.0,1417.3 1934.7,1416.8 1938.3,1418.0C1940.7,1418.7 1943.1,1428.8 1945.5,1428.8C1949.1,1428.8 1952.7,1425.2 1956.4,1425.2C1958.8,1425.2 1961.2,1430.3 1963.6,1430.6C1967.8,1431.2 1972.0,1430.9 1976.3,1431.5C1978.7,1431.9 1981.1,1438.8 1983.5,1438.8C1987.1,1438.8 1990.7,1438.8 1994.3,1438.8C1996.8,1438.8 1999.2,1445.1 2001.6,1445.1C2005.8,1445.1 2010.0,1445.1 2014.2,1445.1C2017.2,1445.1 2020.3,1452.3 2023.3,1452.3C2027.5,1452.3 2031.7,1452.0 2035.9,1451.4C2038.9,1451.0 2042.0,1444.9 2045.0,1443.3C2048.0,1441.6 2051.0,1439.7 2054.0,1439.7C2056.4,1439.7 2058.8,1441.8 2061.2,1443.3C2064.3,1445.1 2067.3,1447.8 2070.3,1450.5C2073.3,1453.2 2076.3,1456.5 2079.3,1459.5C2081.1,1461.4 2082.9,1465.0 2084.8,1465.0C2088.4,1465.0 2092.0,1465.0 2095.6,1465.0C2098.6,1465.0 2101.6,1470.4 2104.6,1470.4C2109.5,1470.4 2114.3,1470.4 2119.1,1470.4C2122.1,1470.4 2125.1,1467.3 2128.2,1463.2C2130.0,1460.7 2131.8,1454.1 2133.6,1445.1C2135.4,1436.0 2137.2,1408.5 2139.0,1390.8C2140.9,1371.8 2142.9,1358.2 2144.8,1335.0C2146.2,1318.8 2147.5,1289.2 2148.9,1272.8C2150.3,1256.4 2151.6,1242.6 2153.0,1232.1C2154.8,1218.0 2156.6,1208.2 2158.4,1198.2C2160.2,1188.1 2162.0,1179.3 2163.8,1171.0C2165.6,1162.7 2167.4,1155.7 2169.3,1148.0C2170.6,1142.2 2172.0,1137.9 2173.3,1130.3C2174.2,1125.3 2175.1,1118.8 2176.0,1110.0C2176.9,1101.2 2177.8,1086.1 2178.7,1072.8C2179.9,1056.1 2181.0,1036.6 2182.1,1018.5C2183.3,1000.4 2184.4,976.4 2185.5,964.3C2187.1,947.3 2188.7,927.0 2190.3,927.0C2191.9,927.0 2193.4,951.2 2195.0,964.3C2197.3,983.0 2199.5,1023.9 2201.8,1023.9C2203.2,1023.9 2204.5,995.9 2205.9,977.8C2207.0,962.7 2208.1,933.9 2209.3,923.6C2210.4,913.2 2211.5,901.9 2212.7,901.9C2214.5,901.9 2216.3,927.8 2218.1,950.7C2219.4,967.8 2220.8,1014.0 2222.1,1032.1C2223.5,1050.2 2224.9,1071.3 2226.2,1072.8C2228.9,1075.6 2231.6,1073.6 2234.4,1076.8C2235.0,1077.6 2235.7,1088.4 2236.4,1099.9C2236.5,1102.2 2236.7,1106.2 2236.8,1110.0C2237.3,1125.0 2237.9,1148.6 2238.4,1164.3C2239.3,1190.4 2240.2,1208.7 2241.1,1232.1C2241.8,1249.6 2242.5,1269.2 2243.2,1286.3C2243.8,1303.4 2244.5,1330.8 2245.2,1335.0C2246.1,1340.6 2247.0,1339.0 2247.9,1344.3C2248.8,1349.5 2249.7,1383.0 2250.6,1398.5C2251.5,1414.0 2252.4,1426.9 2253.3,1439.2C2254.2,1451.5 2255.1,1467.5 2256.1,1473.1C2257.2,1480.1 2258.3,1485.8 2259.4,1486.7C2263.1,1489.6 2266.7,1490.7 2270.3,1490.7"/>
<path stroke="#ff0000" stroke-width="4.0" d="M280.5,1107.1C283.0,1112.3 285.6,1119.2 288.1,1127.0C290.5,1134.4 292.9,1142.1 295.3,1154.1C297.7,1166.2 300.1,1186.2 302.5,1208.4C305.6,1236.1 308.6,1280.0 311.6,1318.5C313.4,1341.6 315.2,1366.7 317.0,1390.8C318.8,1414.9 320.6,1447.0 322.4,1463.2C323.9,1476.6 325.5,1494.0 327.0,1494.0C332.8,1494.0 338.7,1494.0 344.5,1494.0C346.9,1494.0 349.3,1471.9 351.7,1445.1C353.5,1425.0 355.4,1350.2 357.2,1300.4C358.2,1270.6 359.3,1241.7 360.4,1208.4C361.9,1162.1 363.4,1118.4 364.9,1054.7C365.8,1016.4 366.7,943.7 367.6,910.0C368.9,865.1 370.1,834.9 371.3,808.9C372.5,783.0 373.7,760.5 374.9,745.6C376.1,730.8 377.3,714.4 378.5,711.3C379.7,708.1 380.9,705.8 382.1,705.8C383.9,705.8 385.7,716.2 387.5,727.5C388.7,735.1 390.0,749.2 391.2,772.7C391.9,788.1 392.7,817.8 393.5,863.2C393.7,873.6 393.9,898.8 394.1,910.0C394.9,962.1 395.7,991.4 396.6,1018.5C397.8,1057.2 399.0,1075.7 400.2,1108.9C401.3,1138.8 402.4,1171.2 403.5,1208.4C404.2,1233.1 404.9,1273.4 405.6,1291.4C406.8,1321.3 408.0,1342.7 409.2,1354.7C411.0,1372.7 412.9,1382.1 414.7,1390.8C416.8,1401.0 418.9,1414.3 421.0,1414.3C423.7,1414.3 426.4,1405.9 429.1,1399.9C432.1,1393.2 435.2,1378.8 438.2,1372.7C441.8,1365.4 445.4,1356.5 449.0,1356.5C451.4,1356.5 453.8,1372.1 456.3,1381.8C458.1,1389.1 459.9,1402.7 461.7,1407.1C463.5,1411.5 465.3,1416.1 467.1,1416.1C469.5,1416.1 471.9,1386.3 474.3,1372.7C476.1,1362.6 478.0,1347.1 479.8,1343.8C483.4,1337.2 487.0,1339.6 490.6,1333.0C493.0,1328.5 495.4,1293.6 497.8,1282.3C500.3,1271.1 502.7,1257.0 505.1,1257.0C507.5,1257.0 509.9,1281.3 512.3,1291.4C514.7,1301.5 517.1,1313.3 519.5,1318.5C522.0,1323.7 524.4,1329.3 526.8,1329.3C529.2,1329.3 531.6,1314.5 534.0,1300.4C535.8,1289.9 537.6,1264.7 539.4,1246.2C540.6,1233.8 541.9,1222.1 543.1,1208.4C544.3,1194.6 545.5,1170.5 546.7,1163.2C547.9,1155.9 549.1,1148.7 550.3,1148.7C551.8,1148.7 553.3,1162.7 554.8,1172.2C556.3,1181.7 557.8,1196.5 559.3,1208.4C561.7,1227.3 564.2,1243.2 566.6,1264.2C569.0,1285.3 571.4,1321.6 573.8,1336.6C578.0,1362.9 582.2,1377.3 586.5,1390.8C592.5,1410.2 598.5,1421.2 604.5,1436.0C608.8,1446.4 613.0,1460.2 617.2,1466.8C620.8,1472.4 624.4,1479.4 628.0,1479.4C631.7,1479.4 635.3,1469.5 638.9,1459.5C641.7,1451.9 644.4,1433.8 647.2,1416.9C648.5,1409.2 649.7,1397.2 651.0,1389.7C652.1,1383.4 653.2,1376.5 654.3,1373.5C656.3,1367.9 658.2,1362.6 660.2,1362.6C662.4,1362.6 664.6,1365.4 666.7,1373.5C667.1,1374.8 667.5,1385.3 667.8,1389.7C668.7,1400.9 669.6,1408.9 670.5,1416.9C672.2,1431.1 673.8,1447.2 675.4,1454.1C678.7,1468.2 682.1,1481.2 685.4,1481.2C688.1,1481.2 690.8,1453.6 693.5,1427.0C695.3,1409.3 697.1,1374.7 698.9,1336.6C700.4,1304.9 701.9,1241.6 703.5,1210.0C704.4,1191.1 705.3,1171.2 706.2,1163.2C707.1,1155.1 708.0,1146.9 708.9,1146.9C710.1,1146.9 711.3,1162.3 712.5,1172.2C713.7,1182.1 714.9,1194.2 716.1,1208.4C717.0,1219.0 717.9,1239.8 718.8,1246.2C719.7,1252.5 720.6,1258.8 721.5,1258.8C722.7,1258.8 723.9,1246.5 725.2,1237.1C726.1,1230.1 727.0,1213.6 727.9,1208.4C729.0,1202.1 730.0,1195.7 731.1,1195.7C732.1,1195.7 733.2,1202.2 734.2,1208.4C735.7,1217.4 737.2,1252.1 738.7,1264.2C741.7,1288.5 744.7,1314.9 747.8,1314.9C750.2,1314.9 752.6,1294.5 755.0,1282.3C756.8,1273.2 758.6,1256.9 760.4,1251.6C761.9,1247.2 763.4,1242.5 764.9,1242.5C767.0,1242.5 769.2,1256.1 771.3,1264.2C773.7,1273.6 776.1,1289.0 778.5,1296.8C780.9,1304.5 783.3,1305.0 785.7,1314.9C786.9,1319.8 788.1,1333.9 789.3,1345.6C791.2,1363.2 793.0,1389.4 794.8,1408.9C796.6,1428.4 798.4,1449.7 800.2,1463.2C801.7,1474.4 803.2,1487.7 804.7,1490.3C805.9,1492.3 807.1,1494.0 808.3,1494.0C828.3,1494.0 848.2,1494.0 868.1,1494.0C869.0,1494.0 869.9,1475.5 870.8,1467.3C871.9,1457.5 873.0,1450.1 874.1,1440.2C875.2,1430.3 876.3,1415.2 877.4,1407.6C878.4,1400.1 879.5,1393.3 880.6,1390.3C881.3,1388.2 882.1,1385.9 882.8,1385.9C883.7,1385.9 884.6,1389.2 885.5,1392.5C886.4,1395.8 887.3,1405.3 888.2,1413.1C889.3,1422.4 890.4,1435.8 891.5,1445.6C892.5,1455.5 893.6,1467.6 894.7,1472.7C895.8,1477.9 896.9,1482.5 898.0,1483.6C899.2,1484.8 900.5,1485.8 901.8,1485.8C902.7,1485.8 903.6,1478.5 904.5,1472.7C905.6,1465.8 906.7,1452.6 907.7,1440.2C908.8,1427.8 909.9,1411.3 911.0,1396.8C912.1,1382.3 913.2,1364.0 914.2,1353.4C915.7,1339.3 917.1,1327.8 918.6,1320.8C920.0,1313.9 921.5,1308.8 922.9,1305.7C924.2,1302.8 925.5,1299.5 926.8,1299.5C928.1,1299.5 929.3,1304.6 930.5,1310.0C932.0,1316.3 933.4,1338.9 934.9,1353.4C935.9,1364.2 937.0,1379.3 938.1,1385.9C939.6,1394.7 941.0,1404.4 942.5,1404.4C943.9,1404.4 945.3,1393.8 946.8,1385.9C948.2,1378.1 949.7,1360.8 951.1,1353.4C952.2,1347.8 953.3,1341.9 954.4,1340.4C955.7,1338.6 956.9,1337.1 958.2,1337.1C959.5,1337.1 960.7,1340.6 962.0,1344.7C963.1,1348.2 964.2,1360.3 965.2,1369.7C966.3,1379.1 967.4,1392.4 968.5,1402.2C969.6,1412.1 970.7,1423.2 971.8,1429.3C972.8,1435.5 973.9,1441.0 975.0,1443.4C976.5,1446.7 977.9,1450.0 979.3,1450.0C981.2,1450.0 983.0,1444.3 984.8,1440.2C986.6,1436.1 988.4,1431.3 990.2,1423.9C991.6,1418.0 993.1,1408.0 994.5,1396.8C995.6,1388.4 996.7,1375.1 997.8,1364.2C998.9,1353.4 1000.0,1342.5 1001.0,1331.7C1001.8,1324.5 1002.5,1317.8 1003.2,1310.0C1004.3,1298.8 1005.3,1280.0 1006.3,1273.3C1008.2,1261.7 1010.0,1250.7 1011.8,1250.7C1013.6,1250.7 1015.4,1267.4 1017.2,1282.3C1018.0,1288.6 1018.7,1300.3 1019.5,1310.0C1020.6,1323.7 1021.7,1335.8 1022.7,1353.4C1023.5,1365.1 1024.2,1387.0 1024.9,1396.8C1025.8,1409.0 1026.7,1420.0 1027.6,1423.9C1028.5,1427.9 1029.4,1431.5 1030.3,1431.5C1031.8,1431.5 1033.2,1428.6 1034.7,1427.2C1036.5,1425.4 1038.3,1421.8 1040.1,1421.8C1041.9,1421.8 1043.7,1424.5 1045.5,1427.2C1047.0,1429.3 1048.4,1435.8 1049.9,1438.0C1051.5,1440.5 1053.1,1443.4 1054.7,1443.4C1056.0,1443.4 1057.3,1439.1 1058.5,1434.8C1059.6,1431.0 1060.7,1419.3 1061.8,1413.1C1063.2,1404.7 1064.7,1395.4 1066.1,1391.4C1068.3,1385.4 1070.5,1383.1 1072.7,1379.4C1074.5,1376.4 1076.3,1374.3 1078.1,1370.8C1079.9,1367.2 1081.7,1359.3 1083.5,1356.7C1085.3,1354.0 1087.1,1351.2 1088.9,1351.2C1090.7,1351.2 1092.5,1352.6 1094.3,1355.6C1095.3,1357.1 1096.2,1373.9 1097.1,1381.8C1099.5,1402.3 1101.9,1424.6 1104.4,1436.0C1107.4,1450.3 1110.4,1466.8 1113.4,1466.8C1116.4,1466.8 1119.4,1446.0 1122.4,1427.0C1124.2,1415.6 1126.1,1383.7 1127.9,1372.7C1130.0,1360.0 1132.1,1345.6 1134.2,1345.6C1136.3,1345.6 1138.4,1361.7 1140.5,1369.1C1143.2,1378.7 1145.9,1396.3 1148.7,1396.3C1152.9,1396.3 1157.1,1381.8 1161.3,1381.8C1164.0,1381.8 1166.7,1391.1 1169.5,1399.9C1171.9,1407.7 1174.3,1427.7 1176.7,1441.5C1178.5,1451.8 1180.3,1463.7 1182.1,1472.2C1183.9,1480.7 1185.7,1494.0 1187.5,1494.0C1260.5,1494.0 1333.4,1494.0 1406.3,1494.0C1408.8,1494.0 1411.2,1487.8 1413.6,1484.9C1417.2,1480.5 1420.8,1477.0 1424.4,1472.2C1426.8,1469.0 1429.3,1463.5 1431.7,1461.4C1433.5,1459.7 1435.3,1457.7 1437.1,1457.7C1439.5,1457.7 1441.9,1467.7 1444.3,1472.2C1446.7,1476.7 1449.1,1484.9 1451.6,1484.9C1454.0,1484.9 1456.5,1475.4 1458.9,1463.2C1460.7,1454.2 1462.5,1413.6 1464.4,1390.8C1465.9,1371.8 1467.4,1350.1 1468.9,1336.6C1470.4,1323.0 1471.9,1310.4 1473.4,1304.0C1476.4,1291.3 1479.4,1287.8 1482.4,1278.7C1484.9,1271.4 1487.3,1258.3 1489.7,1255.2C1492.4,1251.8 1495.1,1248.9 1497.8,1248.9C1500.5,1248.9 1503.2,1254.7 1505.9,1260.6C1508.4,1265.9 1510.8,1281.1 1513.2,1291.4C1515.6,1301.6 1518.0,1312.2 1520.4,1322.1C1522.8,1332.1 1525.2,1345.7 1527.6,1351.0C1531.9,1360.3 1536.1,1369.1 1540.3,1369.1C1543.3,1369.1 1546.3,1362.9 1549.3,1354.7C1551.2,1349.7 1553.0,1333.2 1554.8,1318.5C1556.0,1308.7 1557.2,1298.7 1558.4,1282.3C1559.3,1270.1 1560.2,1247.1 1561.1,1228.1C1561.4,1221.8 1561.7,1212.1 1562.0,1208.4C1563.2,1193.5 1564.4,1187.5 1565.6,1181.2C1566.8,1175.0 1568.0,1167.9 1569.2,1166.8C1570.4,1165.7 1571.7,1165.0 1572.9,1165.0C1574.7,1165.0 1576.5,1166.6 1578.3,1168.6C1579.8,1170.2 1581.3,1175.0 1582.8,1181.2C1584.0,1186.2 1585.2,1193.1 1586.4,1208.4C1587.3,1219.8 1588.2,1280.1 1589.1,1300.4C1590.6,1334.2 1592.1,1357.2 1593.7,1372.7C1595.2,1388.3 1596.7,1407.1 1598.2,1407.1C1599.7,1407.1 1601.2,1389.6 1602.7,1372.7C1603.9,1359.2 1605.1,1330.9 1606.3,1300.4C1607.2,1277.5 1608.1,1212.3 1609.0,1210.0C1611.7,1203.2 1614.4,1201.1 1617.2,1201.1C1619.2,1201.1 1621.1,1204.1 1623.1,1210.0C1624.3,1213.6 1625.5,1262.7 1626.7,1282.3C1628.1,1303.9 1629.4,1320.3 1630.7,1336.6C1631.5,1346.0 1632.3,1357.0 1633.0,1362.5C1634.5,1373.0 1635.9,1380.4 1637.4,1384.2C1639.9,1391.0 1642.4,1393.3 1645.0,1397.3C1647.5,1401.2 1650.0,1403.4 1652.5,1408.1C1654.4,1411.5 1656.2,1417.9 1658.0,1422.2C1660.5,1428.2 1663.0,1434.0 1665.6,1438.5C1668.5,1443.6 1671.4,1447.3 1674.2,1451.5C1677.9,1456.8 1681.5,1462.2 1685.1,1466.7C1688.7,1471.2 1692.3,1475.4 1695.9,1478.6C1698.8,1481.2 1701.7,1483.6 1704.6,1485.1C1706.8,1486.3 1709.0,1487.9 1711.1,1487.9C1713.3,1487.9 1715.5,1485.9 1717.6,1484.6C1721.3,1482.4 1724.9,1478.7 1728.5,1475.4C1732.1,1472.1 1735.7,1468.2 1739.3,1464.5C1743.0,1460.9 1746.6,1457.3 1750.2,1453.7C1753.8,1450.1 1757.4,1446.5 1761.0,1442.8C1764.7,1439.2 1768.3,1435.4 1771.9,1432.0C1775.5,1428.6 1779.1,1425.5 1782.7,1422.2C1786.4,1419.0 1790.0,1416.0 1793.6,1412.5C1797.2,1408.9 1800.8,1405.6 1804.4,1400.5C1807.3,1396.5 1810.2,1390.8 1813.1,1384.2C1815.7,1378.5 1818.2,1369.8 1820.7,1362.5C1823.2,1355.3 1825.8,1348.7 1828.3,1340.8C1831.2,1331.9 1834.1,1317.8 1837.0,1311.3C1839.1,1306.5 1841.2,1300.4 1843.3,1300.4C1845.5,1300.4 1847.6,1306.4 1849.7,1311.3C1852.1,1316.8 1854.5,1329.3 1856.9,1336.6C1858.7,1342.0 1860.5,1346.9 1862.3,1351.0C1864.7,1356.6 1867.2,1361.0 1869.6,1365.5C1872.0,1370.0 1874.4,1376.2 1876.8,1378.2C1880.4,1381.1 1884.0,1380.8 1887.6,1383.6C1890.1,1385.5 1892.5,1393.6 1894.9,1394.4C1897.9,1395.5 1900.9,1395.1 1903.9,1396.3C1905.7,1396.9 1907.5,1404.7 1909.3,1405.3C1913.0,1406.5 1916.6,1406.0 1920.2,1407.1C1922.6,1407.9 1925.0,1415.4 1927.4,1416.1C1931.0,1417.3 1934.7,1416.8 1938.3,1418.0C1940.7,1418.7 1943.1,1428.8 1945.5,1428.8C1949.1,1428.8 1952.7,1425.2 1956.4,1425.2C1958.8,1425.2 1961.2,1430.3 1963.6,1430.6C1967.8,1431.2 1972.0,1430.9 1976.3,1431.5C1978.7,1431.9 1981.1,1438.8 1983.5,1438.8C1987.1,1438.8 1990.7,1438.8 1994.3,1438.8C1996.8,1438.8 1999.2,1445.1 2001.6,1445.1C2005.8,1445.1 2010.0,1445.1 2014.2,1445.1C2017.2,1445.1 2020.3,1452.3 2023.3,1452.3C2027.5,1452.3 2031.7,1452.0 2035.9,1451.4C2038.9,1451.0 2042.0,1444.9 2045.0,1443.3C2048.0,1441.6 2051.0,1439.7 2054.0,1439.7C2056.4,1439.7 2058.8,1441.8 2061.2,1443.3C2064.3,1445.1 2067.3,1447.8 2070.3,1450.5C2073.3,1453.2 2076.3,1456.5 2079.3,1459.5C2081.1,1461.4 2082.9,1465.0 2084.8,1465.0C2088.4,1465.0 2092.0,1465.0 2095.6,1465.0C2098.6,1465.0 2101.6,1470.4 2104.6,1470.4C2109.5,1470.4 2114.3,1470.4 2119.1,1470.4C2122.1,1470.4 2125.1,1467.3 2128.2,1463.2C2130.0,1460.7 2131.8,1454.1 2133.6,1445.1C2135.4,1436.0 2137.2,1408.5 2139.0,1390.8C2140.9,1371.8 2142.9,1358.2 2144.8,1335.0C2146.2,1318.8 2147.5,1289.2 2148.9,1272.8C2150.3,1256.4 2151.6,1242.6 2153.0,1232.1C2154.8,1218.0 2156.6,1208.2 2158.4,1198.2C2160.2,1188.1 2162.0,1179.3 2163.8,1171.0C2165.6,1162.7 2167.4,1155.7 2169.3,1148.0C2170.6,1142.2 2172.0,1137.9 2173.3,1130.3C2174.2,1125.3 2175.1,1118.8 2176.0,1110.0C2176.9,1101.2 2177.8,1086.1 2178.7,1072.8C2179.9,1056.1 2181.0,1036.6 2182.1,1018.5C2183.3,1000.4 2184.4,976.4 2185.5,964.3C2187.1,947.3 2188.7,927.0 2190.3,927.0C2191.9,927.0 2193.4,951.2 2195.0,964.3C2197.3,983.0 2199.5,1023.9 2201.8,1023.9C2203.2,1023.9 2204.5,995.9 2205.9,977.8C2207.0,962.7 2208.1,933.9 2209.3,923.6C2210.4,913.2 2211.5,901.9 2212.7,901.9C2214.5,901.9 2216.3,927.8 2218.1,950.7C2219.4,967.8 2220.8,1014.0 2222.1,1032.1C2223.5,1050.2 2224.9,1071.3 2226.2,1072.8C2228.9,1075.6 2231.6,1073.6 2234.4,1076.8C2235.0,1077.6 2235.7,1088.4 2236.4,1099.9C2236.5,1102.2 2236.7,1106.2 2236.8,1110.0C2237.3,1125.0 2237.9,1148.6 2238.4,1164.3C2239.3,1190.4 2240.2,1208.7 2241.1,1232.1C2241.8,1249.6 2242.5,1269.2 2243.2,1286.3C2243.8,1303.4 2244.5,1330.8 2245.2,1335.0C2246.1,1340.6 2247.0,1339.0 2247.9,1344.3C2248.8,1349.5 2249.7,1383.0 2250.6,1398.5C2251.5,1414.0 2252.4,1426.9 2253.3,1439.2C2254.2,1451.5 2255.1,1467.5 2256.1,1473.1C2257.2,1480.1 2258.3,1485.8 2259.4,1486.7C2263.1,1489.6 2266.7,1490.7 2270.3,1490.7"/>
<path stroke="#0000ff" stroke-width="11.0" stroke-opacity="0.22" d="M284.5,1494.0C310.4,1494.0 336.3,1494.0 362.2,1494.0C367.6,1494.0 373.1,1472.6 378.5,1454.1C381.5,1443.9 384.5,1427.5 387.5,1408.9C390.6,1390.4 393.6,1353.7 396.6,1336.6C399.3,1321.2 402.0,1300.4 404.7,1300.4C407.4,1300.4 410.1,1337.2 412.9,1354.7C415.6,1372.1 418.3,1405.3 421.0,1405.3C423.7,1405.3 426.4,1367.7 429.1,1336.6C431.5,1308.9 434.0,1237.4 436.4,1210.0C438.2,1189.4 440.0,1174.1 441.8,1163.2C443.6,1152.2 445.4,1137.8 447.2,1137.8C449.0,1137.8 450.8,1150.5 452.6,1163.2C453.8,1171.6 455.1,1187.0 456.3,1208.4C457.5,1229.7 458.7,1295.5 459.9,1318.5C462.3,1364.5 464.7,1412.5 467.1,1412.5C469.5,1412.5 471.9,1349.2 474.3,1318.5C476.8,1287.8 479.2,1269.3 481.6,1228.1C481.9,1222.9 482.2,1210.4 482.5,1208.4C483.4,1202.4 484.3,1199.3 485.2,1199.3C487.0,1199.3 488.8,1201.1 490.6,1201.1C491.8,1201.1 493.0,1189.1 494.2,1181.2C495.7,1171.5 497.2,1154.6 498.8,1145.1C500.3,1135.6 501.8,1121.6 503.3,1121.6C504.8,1121.6 506.3,1133.7 507.8,1145.1C509.3,1156.5 510.8,1188.2 512.3,1208.4C514.7,1240.6 517.1,1277.8 519.5,1300.4C522.9,1331.5 526.2,1372.7 529.5,1372.7C532.2,1372.7 534.9,1302.8 537.6,1264.2C538.8,1247.1 540.0,1235.9 541.2,1210.0C542.5,1184.1 543.7,1100.4 544.9,1072.7C546.7,1031.2 548.5,986.9 550.3,986.9C552.1,986.9 553.9,1037.7 555.7,1072.7C557.5,1107.8 559.3,1154.7 561.1,1208.4C562.3,1244.1 563.6,1299.5 564.8,1336.6C566.6,1392.1 568.4,1473.4 570.2,1481.2C572.0,1489.1 573.8,1494.0 575.6,1494.0C672.9,1494.0 770.3,1494.0 867.6,1494.0C868.7,1494.0 869.8,1477.3 870.8,1472.7C872.3,1466.7 873.7,1463.7 875.2,1459.7C876.5,1456.2 877.7,1451.1 879.0,1450.0C880.3,1448.8 881.5,1447.8 882.8,1447.8C884.0,1447.8 885.3,1449.2 886.6,1451.0C887.7,1452.6 888.8,1459.0 889.8,1464.1C890.7,1468.3 891.6,1476.0 892.5,1479.3C893.6,1483.2 894.7,1486.3 895.8,1487.9C897.8,1491.0 899.8,1494.0 901.8,1494.0C904.1,1494.0 906.5,1491.7 908.8,1487.9C909.9,1486.2 911.0,1479.6 912.1,1472.7C913.2,1465.8 914.2,1448.9 915.3,1440.2C916.4,1431.5 917.5,1423.3 918.6,1418.5C919.7,1413.7 920.8,1409.0 921.8,1407.6C923.3,1405.8 924.7,1404.4 926.2,1404.4C927.6,1404.4 929.1,1407.0 930.5,1409.8C932.0,1412.6 933.4,1423.0 934.9,1429.3C935.9,1434.1 937.0,1441.3 938.1,1443.4C939.6,1446.3 941.0,1448.9 942.5,1448.9C943.9,1448.9 945.3,1443.9 946.8,1440.2C948.2,1436.5 949.7,1429.0 951.1,1425.0C952.2,1422.0 953.3,1418.4 954.4,1417.4C955.7,1416.2 956.9,1415.2 958.2,1415.2C959.6,1415.2 961.1,1417.9 962.5,1420.7C963.8,1423.1 965.1,1429.4 966.3,1434.8C967.4,1439.4 968.5,1446.7 969.6,1451.0C970.7,1455.4 971.8,1459.7 972.8,1461.9C975.0,1466.2 977.2,1470.6 979.3,1470.6C981.2,1470.6 983.0,1468.2 984.8,1466.2C986.6,1464.2 988.4,1460.9 990.2,1456.5C991.6,1452.9 993.1,1447.2 994.5,1440.2C995.6,1434.9 996.7,1425.7 997.8,1418.5C998.9,1411.3 1000.0,1404.0 1001.0,1396.8C1002.1,1389.6 1003.2,1381.3 1004.3,1375.1C1005.4,1368.9 1006.5,1361.1 1007.6,1358.8C1009.0,1355.8 1010.4,1353.4 1011.9,1353.4C1013.3,1353.4 1014.8,1356.7 1016.2,1361.0C1017.3,1364.2 1018.4,1376.5 1019.5,1385.9C1020.6,1395.4 1021.7,1409.8 1022.7,1418.5C1023.8,1427.2 1024.9,1435.9 1026.0,1440.2C1027.4,1445.9 1028.9,1452.1 1030.3,1452.1C1031.8,1452.1 1033.2,1447.4 1034.7,1445.6C1036.5,1443.4 1038.3,1440.2 1040.1,1440.2C1041.9,1440.2 1043.7,1442.6 1045.5,1444.5C1047.0,1446.1 1048.4,1449.8 1049.9,1451.0C1051.7,1452.6 1053.5,1454.3 1055.3,1454.3C1056.7,1454.3 1058.2,1449.8 1059.6,1445.6C1061.1,1441.5 1062.5,1430.1 1064.0,1423.9C1065.4,1417.7 1066.9,1412.0 1068.3,1407.6C1069.8,1403.3 1071.2,1400.0 1072.7,1396.8C1074.5,1392.8 1076.3,1390.0 1078.1,1385.9C1079.9,1381.9 1081.7,1374.9 1083.5,1371.8C1085.5,1368.4 1087.5,1364.2 1089.5,1364.2C1091.1,1364.2 1092.7,1366.8 1094.3,1370.8C1095.3,1373.0 1096.2,1383.2 1097.1,1390.8C1098.9,1405.8 1100.7,1436.2 1102.5,1445.1C1106.2,1462.8 1109.8,1477.6 1113.4,1477.6C1116.4,1477.6 1119.4,1455.6 1122.4,1436.0C1124.2,1424.3 1126.1,1392.2 1127.9,1381.8C1130.0,1369.6 1132.1,1356.5 1134.2,1356.5C1136.3,1356.5 1138.4,1366.7 1140.5,1372.7C1143.2,1380.6 1145.9,1399.9 1148.7,1399.9C1152.9,1399.9 1157.1,1373.7 1161.3,1373.7C1164.0,1373.7 1166.7,1382.2 1169.5,1390.8C1171.9,1398.5 1174.3,1420.5 1176.7,1436.0C1178.5,1447.7 1180.3,1464.6 1182.1,1472.2C1184.5,1482.4 1186.9,1494.0 1189.3,1494.0C1530.9,1494.0 1872.5,1494.0 2214.0,1494.0C2216.3,1494.0 2218.5,1490.3 2220.8,1488.7C2224.0,1486.5 2227.1,1483.2 2230.3,1482.6C2233.9,1482.0 2237.5,1481.5 2241.1,1481.5C2244.8,1481.5 2248.4,1481.9 2252.0,1482.3C2255.1,1482.7 2258.3,1483.4 2261.5,1484.0C2264.4,1484.4 2267.4,1484.9 2270.3,1485.3"/>
<path stroke="#0000ff" stroke-width="4.0" d="M284.5,1494.0C310.4,1494.0 336.3,1494.0 362.2,1494.0C367.6,1494.0 373.1,1472.6 378.5,1454.1C381.5,1443.9 384.5,1427.5 387.5,1408.9C390.6,1390.4 393.6,1353.7 396.6,1336.6C399.3,1321.2 402.0,1300.4 404.7,1300.4C407.4,1300.4 410.1,1337.2 412.9,1354.7C415.6,1372.1 418.3,1405.3 421.0,1405.3C423.7,1405.3 426.4,1367.7 429.1,1336.6C431.5,1308.9 434.0,1237.4 436.4,1210.0C438.2,1189.4 440.0,1174.1 441.8,1163.2C443.6,1152.2 445.4,1137.8 447.2,1137.8C449.0,1137.8 450.8,1150.5 452.6,1163.2C453.8,1171.6 455.1,1187.0 456.3,1208.4C457.5,1229.7 458.7,1295.5 459.9,1318.5C462.3,1364.5 464.7,1412.5 467.1,1412.5C469.5,1412.5 471.9,1349.2 474.3,1318.5C476.8,1287.8 479.2,1269.3 481.6,1228.1C481.9,1222.9 482.2,1210.4 482.5,1208.4C483.4,1202.4 484.3,1199.3 485.2,1199.3C487.0,1199.3 488.8,1201.1 490.6,1201.1C491.8,1201.1 493.0,1189.1 494.2,1181.2C495.7,1171.5 497.2,1154.6 498.8,1145.1C500.3,1135.6 501.8,1121.6 503.3,1121.6C504.8,1121.6 506.3,1133.7 507.8,1145.1C509.3,1156.5 510.8,1188.2 512.3,1208.4C514.7,1240.6 517.1,1277.8 519.5,1300.4C522.9,1331.5 526.2,1372.7 529.5,1372.7C532.2,1372.7 534.9,1302.8 537.6,1264.2C538.8,1247.1 540.0,1235.9 541.2,1210.0C542.5,1184.1 543.7,1100.4 544.9,1072.7C546.7,1031.2 548.5,986.9 550.3,986.9C552.1,986.9 553.9,1037.7 555.7,1072.7C557.5,1107.8 559.3,1154.7 561.1,1208.4C562.3,1244.1 563.6,1299.5 564.8,1336.6C566.6,1392.1 568.4,1473.4 570.2,1481.2C572.0,1489.1 573.8,1494.0 575.6,1494.0C672.9,1494.0 770.3,1494.0 867.6,1494.0C868.7,1494.0 869.8,1477.3 870.8,1472.7C872.3,1466.7 873.7,1463.7 875.2,1459.7C876.5,1456.2 877.7,1451.1 879.0,1450.0C880.3,1448.8 881.5,1447.8 882.8,1447.8C884.0,1447.8 885.3,1449.2 886.6,1451.0C887.7,1452.6 888.8,1459.0 889.8,1464.1C890.7,1468.3 891.6,1476.0 892.5,1479.3C893.6,1483.2 894.7,1486.3 895.8,1487.9C897.8,1491.0 899.8,1494.0 901.8,1494.0C904.1,1494.0 906.5,1491.7 908.8,1487.9C909.9,1486.2 911.0,1479.6 912.1,1472.7C913.2,1465.8 914.2,1448.9 915.3,1440.2C916.4,1431.5 917.5,1423.3 918.6,1418.5C919.7,1413.7 920.8,1409.0 921.8,1407.6C923.3,1405.8 924.7,1404.4 926.2,1404.4C927.6,1404.4 929.1,1407.0 930.5,1409.8C932.0,1412.6 933.4,1423.0 934.9,1429.3C935.9,1434.1 937.0,1441.3 938.1,1443.4C939.6,1446.3 941.0,1448.9 942.5,1448.9C943.9,1448.9 945.3,1443.9 946.8,1440.2C948.2,1436.5 949.7,1429.0 951.1,1425.0C952.2,1422.0 953.3,1418.4 954.4,1417.4C955.7,1416.2 956.9,1415.2 958.2,1415.2C959.6,1415.2 961.1,1417.9 962.5,1420.7C963.8,1423.1 965.1,1429.4 966.3,1434.8C967.4,1439.4 968.5,1446.7 969.6,1451.0C970.7,1455.4 971.8,1459.7 972.8,1461.9C975.0,1466.2 977.2,1470.6 979.3,1470.6C981.2,1470.6 983.0,1468.2 984.8,1466.2C986.6,1464.2 988.4,1460.9 990.2,1456.5C991.6,1452.9 993.1,1447.2 994.5,1440.2C995.6,1434.9 996.7,1425.7 997.8,1418.5C998.9,1411.3 1000.0,1404.0 1001.0,1396.8C1002.1,1389.6 1003.2,1381.3 1004.3,1375.1C1005.4,1368.9 1006.5,1361.1 1007.6,1358.8C1009.0,1355.8 1010.4,1353.4 1011.9,1353.4C1013.3,1353.4 1014.8,1356.7 1016.2,1361.0C1017.3,1364.2 1018.4,1376.5 1019.5,1385.9C1020.6,1395.4 1021.7,1409.8 1022.7,1418.5C1023.8,1427.2 1024.9,1435.9 1026.0,1440.2C1027.4,1445.9 1028.9,1452.1 1030.3,1452.1C1031.8,1452.1 1033.2,1447.4 1034.7,1445.6C1036.5,1443.4 1038.3,1440.2 1040.1,1440.2C1041.9,1440.2 1043.7,1442.6 1045.5,1444.5C1047.0,1446.1 1048.4,1449.8 1049.9,1451.0C1051.7,1452.6 1053.5,1454.3 1055.3,1454.3C1056.7,1454.3 1058.2,1449.8 1059.6,1445.6C1061.1,1441.5 1062.5,1430.1 1064.0,1423.9C1065.4,1417.7 1066.9,1412.0 1068.3,1407.6C1069.8,1403.3 1071.2,1400.0 1072.7,1396.8C1074.5,1392.8 1076.3,1390.0 1078.1,1385.9C1079.9,1381.9 1081.7,1374.9 1083.5,1371.8C1085.5,1368.4 1087.5,1364.2 1089.5,1364.2C1091.1,1364.2 1092.7,1366.8 1094.3,1370.8C1095.3,1373.0 1096.2,1383.2 1097.1,1390.8C1098.9,1405.8 1100.7,1436.2 1102.5,1445.1C1106.2,1462.8 1109.8,1477.6 1113.4,1477.6C1116.4,1477.6 1119.4,1455.6 1122.4,1436.0C1124.2,1424.3 1126.1,1392.2 1127.9,1381.8C1130.0,1369.6 1132.1,1356.5 1134.2,1356.5C1136.3,1356.5 1138.4,1366.7 1140.5,1372.7C1143.2,1380.6 1145.9,1399.9 1148.7,1399.9C1152.9,1399.9 1157.1,1373.7 1161.3,1373.7C1164.0,1373.7 1166.7,1382.2 1169.5,1390.8C1171.9,1398.5 1174.3,1420.5 1176.7,1436.0C1178.5,1447.7 1180.3,1464.6 1182.1,1472.2C1184.5,1482.4 1186.9,1494.0 1189.3,1494.0C1530.9,1494.0 1872.5,1494.0 2214.0,1494.0C2216.3,1494.0 2218.5,1490.3 2220.8,1488.7C2224.0,1486.5 2227.1,1483.2 2230.3,1482.6C2233.9,1482.0 2237.5,1481.5 2241.1,1481.5C2244.8,1481.5 2248.4,1481.9 2252.0,1482.3C2255.1,1482.7 2258.3,1483.4 2261.5,1484.0C2264.4,1484.4 2267.4,1484.9 2270.3,1485.3"/>
<path stroke="#ff00ff" stroke-width="11.0" stroke-opacity="0.22" d="M280.5,1289.6C284.2,1291.0 288.0,1298.1 291.7,1305.8C294.7,1312.1 297.7,1323.5 300.7,1336.6C303.8,1349.7 306.8,1370.2 309.8,1390.8C312.8,1411.5 315.8,1443.4 318.8,1463.2C320.6,1475.0 322.4,1494.0 324.2,1494.0C331.5,1494.0 338.7,1494.0 345.9,1494.0C348.4,1494.0 350.8,1471.9 353.2,1445.1C355.0,1425.0 356.8,1347.4 358.6,1300.4C359.8,1269.1 361.0,1240.6 362.2,1208.4C364.0,1160.1 365.8,1115.3 367.6,1054.7C368.9,1014.2 370.1,941.4 371.3,910.0C373.1,862.9 374.9,835.6 376.7,808.9C377.9,791.1 379.1,769.9 380.3,763.7C381.2,759.1 382.1,754.7 383.0,754.7C384.5,754.7 386.0,763.0 387.5,772.7C388.7,780.5 390.0,807.3 391.2,827.0C392.7,851.6 394.2,881.3 395.7,908.4C398.4,957.2 401.1,1001.7 403.8,1054.7C406.2,1101.7 408.6,1158.2 411.0,1208.4C412.3,1233.4 413.5,1258.0 414.7,1282.3C415.1,1292.1 415.6,1306.8 416.1,1311.3C417.6,1325.1 419.1,1334.8 420.6,1334.8C422.1,1334.8 423.6,1325.1 425.2,1311.3C425.6,1306.8 426.1,1291.5 426.6,1282.3C428.0,1256.0 429.4,1234.9 430.8,1208.4C432.6,1172.6 434.5,1116.5 436.4,1090.8C438.8,1057.7 441.2,1026.1 443.6,1018.5C445.1,1013.7 446.6,1009.5 448.1,1009.5C450.2,1009.5 452.3,1045.9 454.4,1072.7C457.0,1104.9 459.5,1169.1 462.0,1208.4C463.4,1229.0 464.7,1243.8 466.0,1264.2C467.0,1279.1 468.0,1313.1 468.9,1313.1C470.5,1313.1 472.0,1290.5 473.6,1264.2C474.2,1254.1 474.8,1227.8 475.4,1208.4C476.8,1165.6 478.1,1095.3 479.4,1072.7C480.8,1048.1 482.3,1025.0 483.7,1023.9C486.3,1022.0 488.9,1023.3 491.5,1021.2C492.4,1020.5 493.3,997.3 494.2,982.3C495.4,962.4 496.6,929.0 497.8,910.0C499.1,891.0 500.3,872.5 501.5,863.2C502.7,853.9 503.9,843.3 505.1,843.3C506.0,843.3 506.9,860.1 507.8,872.2C509.9,900.5 512.0,961.9 514.1,1000.4C515.9,1033.4 517.7,1072.2 519.5,1090.8C522.0,1115.7 524.4,1143.3 526.8,1143.3C529.2,1143.3 531.6,1095.9 534.0,1054.7C535.8,1023.8 537.6,970.4 539.4,910.0C540.6,869.7 541.9,804.6 543.1,754.7C544.3,704.7 545.5,657.0 546.7,610.0C547.0,595.9 547.4,576.4 547.8,568.5C548.8,545.4 549.9,525.1 550.9,525.1C552.0,525.1 553.0,541.7 554.1,568.5C554.3,574.6 554.6,599.4 554.8,610.0C556.3,676.5 557.8,699.4 559.3,754.7C560.5,798.9 561.7,858.4 562.9,908.4C564.2,958.3 565.4,1019.9 566.6,1054.7C569.0,1124.3 571.4,1181.1 573.8,1208.4C576.2,1235.7 578.6,1249.4 581.0,1264.2C584.6,1286.5 588.3,1299.2 591.9,1318.5C596.1,1341.0 600.3,1372.3 604.5,1390.8C608.8,1409.4 613.0,1424.2 617.2,1436.0C620.8,1446.2 624.4,1461.4 628.0,1461.4C632.3,1461.4 636.5,1412.9 640.7,1372.7C643.7,1344.1 646.7,1280.5 649.7,1246.2C651.0,1232.4 652.2,1223.6 653.4,1210.0C654.6,1196.4 655.8,1171.2 657.0,1163.2C658.5,1153.1 660.0,1143.3 661.5,1143.3C663.0,1143.3 664.5,1154.7 666.0,1163.2C668.0,1174.0 669.9,1182.6 671.8,1210.0C673.0,1227.1 674.2,1327.5 675.4,1354.7C677.2,1395.4 679.0,1422.3 680.8,1436.0C682.4,1447.5 683.9,1459.5 685.4,1459.5C686.9,1459.5 688.4,1433.9 689.9,1408.9C691.1,1388.9 692.3,1333.3 693.5,1300.4C694.7,1267.5 695.9,1259.7 697.1,1210.0C697.7,1185.1 698.3,1104.6 698.9,1054.7C699.5,1004.7 700.1,956.4 700.7,910.0C701.8,828.8 702.8,739.5 703.9,677.0C704.8,623.4 705.7,558.3 706.6,541.4C707.3,527.8 708.1,515.6 708.8,515.6C709.6,515.6 710.4,548.0 711.2,568.5C712.7,604.9 714.1,668.1 715.6,704.1C717.1,742.3 718.6,799.0 720.2,799.0C721.5,799.0 722.9,739.7 724.2,704.1C725.6,668.5 727.0,600.3 728.3,582.1C729.5,566.2 730.7,550.9 731.8,550.9C733.1,550.9 734.4,574.7 735.6,595.6C737.4,625.4 739.3,716.5 741.1,758.3C743.1,806.5 745.2,875.0 747.3,875.0C749.1,875.0 750.9,818.0 752.7,785.5C755.0,744.7 757.2,673.5 759.5,649.9C761.3,630.9 763.1,610.5 764.9,610.5C767.2,610.5 769.4,646.4 771.7,677.0C773.1,695.3 774.4,734.9 775.8,758.3C777.6,789.6 779.4,810.6 781.2,839.7C782.6,861.6 783.9,876.0 785.3,910.0C786.0,928.9 786.8,976.8 787.5,1000.4C788.7,1038.1 790.0,1056.8 791.2,1090.8C792.4,1124.9 793.6,1159.3 794.8,1208.4C795.4,1232.9 796.0,1281.8 796.6,1300.4C798.4,1356.4 800.2,1382.3 802.0,1408.9C803.8,1435.6 805.6,1460.0 807.4,1472.2C808.9,1482.4 810.4,1494.0 812.0,1494.0C828.7,1494.0 845.4,1494.0 862.2,1494.0C862.9,1494.0 863.6,1421.4 864.3,1396.8C865.4,1359.9 866.5,1338.4 867.6,1310.0C870.4,1235.3 873.3,1153.8 876.1,1090.8C877.4,1064.2 878.6,1027.5 879.8,1018.5C880.8,1010.8 881.8,1004.0 882.8,1004.0C884.2,1004.0 885.6,1043.3 887.0,1072.7C888.5,1104.7 890.0,1167.9 891.5,1208.4C893.0,1248.9 894.5,1286.1 896.0,1318.5C898.0,1361.3 900.0,1432.4 902.0,1432.4C903.6,1432.4 905.3,1361.5 906.9,1318.5C908.1,1286.7 909.3,1266.6 910.5,1210.0C911.1,1181.7 911.7,1095.0 912.3,1054.7C913.2,994.2 914.1,965.9 915.0,910.0C916.1,845.3 917.1,732.1 918.2,677.0C919.5,605.6 920.9,539.3 922.2,514.2C923.6,489.2 924.9,465.4 926.3,465.4C927.7,465.4 929.0,526.4 930.4,568.5C931.7,610.6 933.1,606.7 934.4,731.2C934.6,745.8 934.8,904.0 934.9,910.0C936.1,955.5 937.3,948.3 938.5,964.2C939.4,976.2 940.3,996.8 941.2,996.8C942.2,996.8 943.1,977.8 944.0,964.2C944.9,950.7 945.8,934.3 946.7,910.0C948.0,873.8 949.4,776.1 950.7,731.2C952.1,686.1 953.4,643.3 954.8,622.7C955.5,611.7 956.2,598.3 957.0,598.3C958.5,598.3 960.0,644.9 961.6,677.0C962.9,705.3 964.3,715.4 965.6,785.5C965.9,801.5 966.3,893.6 966.6,910.0C968.4,1005.4 970.2,1008.1 972.0,1054.7C973.2,1085.7 974.4,1110.8 975.6,1145.1C976.5,1170.8 977.4,1233.5 978.3,1233.5C979.5,1233.5 980.7,1197.1 981.9,1181.2C983.4,1161.4 984.9,1148.1 986.5,1127.0C988.9,1093.2 991.3,1045.7 993.7,1000.4C995.2,972.1 996.7,957.5 998.2,910.0C999.6,867.5 1000.9,709.9 1002.2,622.7C1003.2,564.2 1004.1,531.0 1005.0,460.0C1005.6,410.3 1006.2,298.4 1006.9,254.1C1007.8,190.8 1008.7,144.1 1009.6,118.5C1010.6,90.3 1011.6,60.2 1012.6,60.2C1013.5,60.2 1014.5,91.3 1015.5,118.5C1016.5,145.7 1017.5,155.5 1018.5,254.1C1018.7,272.0 1018.9,432.1 1019.1,460.0C1020.0,599.7 1020.9,611.3 1021.8,677.0C1023.0,762.4 1024.1,837.1 1025.3,910.0C1025.9,948.0 1026.5,996.3 1027.1,1018.5C1028.3,1062.2 1029.6,1107.1 1030.8,1107.1C1032.3,1107.1 1033.8,1062.0 1035.3,1045.6C1037.1,1025.9 1038.9,996.8 1040.7,996.8C1043.1,996.8 1045.5,1032.5 1047.9,1054.7C1050.3,1076.8 1052.8,1132.4 1055.2,1132.4C1057.0,1132.4 1058.8,1063.7 1060.6,1018.5C1061.8,988.4 1063.0,940.5 1064.2,910.0C1067.5,826.6 1070.8,779.7 1074.1,704.1C1075.9,662.7 1077.7,615.2 1079.5,568.5C1080.9,533.4 1082.3,491.5 1083.6,460.0C1084.5,439.0 1085.4,415.5 1086.3,403.3C1087.2,391.0 1088.1,376.2 1089.0,376.2C1089.9,376.2 1090.8,391.0 1091.8,403.3C1092.7,415.5 1093.6,432.8 1094.5,460.0C1095.8,500.8 1097.2,612.5 1098.5,704.1C1099.4,765.2 1100.3,848.3 1101.2,910.0C1102.9,1021.8 1104.5,1158.7 1106.2,1208.4C1107.7,1254.0 1109.2,1272.4 1110.7,1300.4C1111.6,1317.2 1112.5,1347.4 1113.4,1347.4C1114.6,1347.4 1115.8,1305.2 1117.0,1282.3C1118.2,1259.5 1119.4,1246.3 1120.6,1210.0C1122.1,1164.6 1123.6,1020.5 1125.2,910.0C1126.2,831.4 1127.3,730.1 1128.4,649.9C1129.3,582.1 1130.2,531.3 1131.1,460.0C1131.4,438.6 1131.6,398.8 1131.9,389.7C1132.5,368.5 1133.2,354.5 1133.8,354.5C1134.9,354.5 1136.0,374.5 1137.0,389.7C1138.2,406.1 1139.4,429.0 1140.6,460.0C1141.9,495.8 1143.3,576.2 1144.6,622.7C1146.0,669.2 1147.4,744.8 1148.7,744.8C1150.5,744.8 1152.3,631.5 1154.1,595.6C1155.9,559.8 1157.7,511.5 1159.6,511.5C1161.8,511.5 1164.1,557.7 1166.3,595.6C1168.1,626.0 1170.0,679.8 1171.8,731.2C1173.6,782.6 1175.4,832.4 1177.2,910.0C1178.8,980.4 1180.5,1075.9 1182.1,1208.4C1182.4,1232.7 1182.7,1286.8 1183.0,1300.4C1184.5,1368.3 1186.0,1385.0 1187.5,1408.9C1189.3,1437.6 1191.2,1461.4 1193.0,1472.2C1194.8,1483.0 1196.6,1494.0 1198.4,1494.0C1241.2,1494.0 1284.0,1494.0 1326.8,1494.0C1328.6,1494.0 1330.4,1469.8 1332.2,1445.1C1333.4,1428.6 1334.6,1391.8 1335.8,1354.7C1337.0,1317.6 1338.2,1250.7 1339.4,1210.0C1341.2,1149.0 1343.1,1096.8 1344.9,1054.7C1346.1,1026.6 1347.3,992.7 1348.5,982.3C1349.4,974.6 1350.3,967.0 1351.2,967.0C1352.4,967.0 1353.6,1006.1 1354.8,1036.6C1356.3,1074.6 1357.8,1157.6 1359.3,1208.4C1360.5,1249.0 1361.7,1286.4 1362.9,1318.5C1364.8,1366.7 1366.6,1421.6 1368.4,1445.1C1370.2,1468.6 1372.0,1494.0 1373.8,1494.0C1381.0,1494.0 1388.3,1494.0 1395.5,1494.0C1397.3,1494.0 1399.1,1468.6 1400.9,1445.1C1402.7,1421.6 1404.5,1366.4 1406.3,1318.5C1407.6,1286.6 1408.8,1252.6 1410.0,1210.0C1411.2,1167.4 1412.4,1099.6 1413.6,1054.7C1414.5,1020.9 1415.4,974.9 1416.3,964.2C1416.9,957.2 1417.5,950.7 1418.1,950.7C1419.3,950.7 1420.5,971.6 1421.7,982.3C1423.8,1001.2 1425.9,1040.2 1428.0,1040.2C1429.9,1040.2 1431.7,993.7 1433.5,973.3C1434.7,959.7 1435.9,935.3 1437.1,935.3C1438.3,935.3 1439.5,987.1 1440.7,1018.5C1441.9,1049.9 1443.1,1082.6 1444.3,1127.0C1444.9,1149.2 1445.5,1178.2 1446.1,1208.4C1446.8,1240.9 1447.4,1295.0 1448.1,1318.5C1449.3,1361.9 1450.5,1391.1 1451.7,1408.9C1452.9,1426.7 1454.1,1446.9 1455.3,1446.9C1457.1,1446.9 1458.9,1416.0 1460.7,1390.8C1461.9,1374.0 1463.2,1342.6 1464.4,1318.5C1465.6,1294.4 1466.8,1265.3 1468.0,1246.2C1468.9,1231.8 1469.8,1223.2 1470.7,1210.0C1472.2,1188.0 1473.7,1150.5 1475.2,1136.0C1477.0,1118.7 1478.8,1110.2 1480.6,1099.9C1482.4,1089.5 1484.2,1082.4 1486.1,1072.7C1487.9,1063.1 1489.7,1045.1 1491.5,1042.0C1493.3,1038.9 1495.1,1036.6 1496.9,1036.6C1499.3,1036.6 1501.7,1041.4 1504.1,1047.4C1505.9,1052.0 1507.8,1068.8 1509.6,1081.8C1511.4,1094.8 1513.2,1113.6 1515.0,1127.0C1516.8,1140.4 1518.6,1151.5 1520.4,1163.2C1522.8,1178.7 1525.2,1197.4 1527.6,1208.4C1529.5,1216.6 1531.3,1225.2 1533.1,1228.1C1535.5,1232.0 1537.9,1235.3 1540.3,1235.3C1542.4,1235.3 1544.5,1232.8 1546.6,1224.5C1546.9,1223.3 1547.2,1213.4 1547.5,1208.4C1549.3,1178.3 1551.2,1158.3 1553.0,1127.0C1554.2,1106.1 1555.4,1078.8 1556.6,1054.7C1557.8,1030.6 1559.0,1001.8 1560.2,982.3C1561.4,962.9 1562.6,940.2 1563.8,933.5C1565.6,923.4 1567.4,915.4 1569.2,915.4C1571.0,915.4 1572.9,925.8 1574.7,937.1C1575.9,944.7 1577.1,965.9 1578.3,982.3C1579.5,998.8 1580.7,1018.5 1581.9,1036.6C1583.1,1054.7 1584.3,1070.2 1585.5,1090.8C1586.7,1111.5 1587.9,1141.3 1589.1,1163.2C1590.0,1179.5 1590.9,1180.2 1591.8,1208.4C1592.1,1217.8 1592.4,1273.2 1592.7,1282.3C1594.7,1341.1 1596.6,1369.1 1598.5,1369.1C1600.2,1369.1 1601.9,1327.8 1603.6,1300.4C1605.1,1276.0 1606.6,1254.5 1608.1,1210.0C1608.7,1192.2 1609.3,1139.6 1609.9,1127.0C1611.1,1101.7 1612.3,1085.9 1613.5,1081.8C1614.7,1077.6 1616.0,1074.6 1617.2,1074.6C1618.7,1074.6 1620.2,1093.5 1621.7,1108.9C1622.9,1121.2 1624.1,1146.7 1625.3,1163.2C1626.5,1179.6 1627.7,1188.8 1628.9,1208.4C1630.0,1226.0 1631.1,1267.3 1632.2,1282.3C1634.1,1309.0 1636.0,1329.2 1638.0,1336.6C1638.5,1338.6 1639.0,1339.3 1639.5,1340.8C1642.1,1348.4 1644.6,1359.5 1647.1,1368.0C1650.0,1377.6 1652.9,1386.5 1655.8,1395.1C1658.3,1402.6 1660.9,1410.8 1663.4,1416.8C1667.0,1425.4 1670.6,1431.6 1674.2,1438.5C1677.9,1445.3 1681.5,1452.3 1685.1,1458.0C1688.7,1463.7 1692.3,1468.4 1695.9,1473.2C1698.8,1477.0 1701.7,1481.9 1704.6,1484.1C1706.8,1485.7 1709.0,1487.5 1711.1,1487.5C1713.3,1487.5 1715.5,1485.5 1717.6,1484.1C1721.3,1481.6 1724.9,1476.8 1728.5,1473.2C1732.1,1469.6 1735.7,1466.3 1739.3,1462.4C1743.0,1458.4 1746.6,1453.3 1750.2,1449.3C1753.8,1445.4 1757.4,1442.1 1761.0,1438.5C1764.7,1434.9 1768.3,1431.3 1771.9,1427.6C1775.5,1424.0 1779.1,1420.7 1782.7,1416.8C1786.4,1412.9 1790.0,1408.6 1793.6,1403.8C1796.5,1399.9 1799.4,1397.4 1802.3,1390.8C1803.7,1387.4 1805.2,1380.7 1806.6,1373.4C1807.7,1367.9 1808.8,1360.5 1809.9,1351.7C1811.7,1336.9 1813.5,1296.4 1815.3,1291.4C1817.7,1284.8 1820.1,1280.5 1822.5,1280.5C1824.7,1280.5 1826.8,1293.4 1828.9,1296.8C1830.4,1299.2 1831.9,1302.2 1833.4,1302.2C1837.0,1302.2 1840.6,1289.6 1844.2,1289.6C1846.7,1289.6 1849.1,1296.6 1851.5,1304.0C1853.3,1309.6 1855.1,1328.1 1856.9,1336.6C1859.3,1347.8 1861.7,1356.1 1864.1,1363.7C1866.6,1371.4 1869.0,1379.5 1871.4,1383.6C1874.4,1388.7 1877.4,1390.9 1880.4,1394.4C1884.0,1398.7 1887.6,1404.0 1891.3,1407.1C1894.9,1410.2 1898.5,1411.4 1902.1,1414.3C1905.7,1417.2 1909.3,1422.3 1913.0,1425.2C1916.6,1428.1 1920.2,1430.0 1923.8,1432.4C1927.4,1434.8 1931.0,1437.2 1934.7,1439.7C1938.3,1442.1 1941.9,1446.9 1945.5,1446.9C1949.1,1446.9 1952.7,1446.9 1956.4,1446.9C1960.0,1446.9 1963.6,1451.8 1967.2,1452.3C1970.8,1452.8 1974.4,1452.6 1978.1,1453.2C1980.5,1453.6 1982.9,1459.2 1985.3,1459.5C1988.9,1460.1 1992.5,1459.9 1996.1,1460.5C1999.8,1461.0 2003.4,1466.8 2007.0,1466.8C2010.6,1466.8 2014.2,1466.8 2017.8,1466.8C2020.9,1466.8 2023.9,1470.4 2026.9,1470.4C2030.0,1470.4 2033.2,1468.3 2036.3,1465.0C2038.1,1463.1 2039.9,1455.1 2041.8,1446.0C2043.1,1439.2 2044.5,1418.2 2045.8,1412.1C2047.6,1403.9 2049.4,1397.2 2051.3,1395.8C2053.3,1394.2 2055.3,1393.1 2057.4,1393.1C2059.8,1393.1 2062.3,1395.6 2064.8,1398.5C2066.6,1400.6 2068.4,1405.9 2070.2,1412.1C2071.6,1416.7 2073.0,1424.7 2074.3,1432.4C2075.7,1440.2 2077.0,1453.8 2078.4,1459.5C2080.2,1467.2 2082.0,1473.4 2083.8,1475.8C2086.5,1479.5 2089.2,1481.5 2091.9,1482.6C2095.6,1484.0 2099.2,1484.9 2102.8,1485.3C2106.4,1485.7 2110.0,1486.0 2113.6,1486.0C2117.3,1486.0 2120.9,1485.1 2124.5,1484.0C2127.2,1483.1 2129.9,1480.6 2132.6,1477.2C2134.9,1474.3 2137.2,1465.8 2139.4,1459.5C2141.7,1453.2 2143.9,1445.2 2146.2,1439.2C2148.5,1433.2 2150.7,1427.8 2153.0,1422.9C2155.2,1418.0 2157.5,1413.4 2159.8,1409.4C2162.0,1405.3 2164.3,1402.8 2166.5,1398.5C2168.8,1394.2 2171.1,1389.4 2173.3,1382.2C2175.1,1376.5 2176.9,1368.0 2178.7,1357.8C2180.1,1350.2 2181.5,1335.4 2182.8,1328.0C2184.2,1320.6 2185.5,1312.9 2186.9,1310.3C2188.0,1308.3 2189.1,1306.3 2190.3,1306.3C2192.3,1306.3 2194.3,1315.9 2196.4,1321.2C2198.2,1325.9 2200.0,1336.1 2201.8,1336.1C2203.6,1336.1 2205.4,1324.1 2207.2,1317.1C2209.0,1310.2 2210.8,1294.1 2212.7,1294.1C2214.9,1294.1 2217.2,1309.6 2219.4,1317.1C2221.2,1323.1 2223.1,1332.7 2224.9,1334.8C2227.6,1337.9 2230.3,1337.0 2233.0,1340.2C2234.8,1342.3 2236.6,1348.7 2238.4,1357.8C2239.8,1364.6 2241.1,1384.9 2242.5,1398.5C2243.8,1412.1 2245.2,1426.9 2246.6,1439.2C2247.9,1451.5 2249.3,1466.6 2250.6,1473.1C2252.0,1479.6 2253.3,1485.9 2254.7,1486.7C2259.9,1489.7 2265.1,1490.7 2270.3,1490.7"/>
<path stroke="#ff00ff" stroke-width="4.0" d="M280.5,1289.6C284.2,1291.0 288.0,1298.1 291.7,1305.8C294.7,1312.1 297.7,1323.5 300.7,1336.6C303.8,1349.7 306.8,1370.2 309.8,1390.8C312.8,1411.5 315.8,1443.4 318.8,1463.2C320.6,1475.0 322.4,1494.0 324.2,1494.0C331.5,1494.0 338.7,1494.0 345.9,1494.0C348.4,1494.0 350.8,1471.9 353.2,1445.1C355.0,1425.0 356.8,1347.4 358.6,1300.4C359.8,1269.1 361.0,1240.6 362.2,1208.4C364.0,1160.1 365.8,1115.3 367.6,1054.7C368.9,1014.2 370.1,941.4 371.3,910.0C373.1,862.9 374.9,835.6 376.7,808.9C377.9,791.1 379.1,769.9 380.3,763.7C381.2,759.1 382.1,754.7 383.0,754.7C384.5,754.7 386.0,763.0 387.5,772.7C388.7,780.5 390.0,807.3 391.2,827.0C392.7,851.6 394.2,881.3 395.7,908.4C398.4,957.2 401.1,1001.7 403.8,1054.7C406.2,1101.7 408.6,1158.2 411.0,1208.4C412.3,1233.4 413.5,1258.0 414.7,1282.3C415.1,1292.1 415.6,1306.8 416.1,1311.3C417.6,1325.1 419.1,1334.8 420.6,1334.8C422.1,1334.8 423.6,1325.1 425.2,1311.3C425.6,1306.8 426.1,1291.5 426.6,1282.3C428.0,1256.0 429.4,1234.9 430.8,1208.4C432.6,1172.6 434.5,1116.5 436.4,1090.8C438.8,1057.7 441.2,1026.1 443.6,1018.5C445.1,1013.7 446.6,1009.5 448.1,1009.5C450.2,1009.5 452.3,1045.9 454.4,1072.7C457.0,1104.9 459.5,1169.1 462.0,1208.4C463.4,1229.0 464.7,1243.8 466.0,1264.2C467.0,1279.1 468.0,1313.1 468.9,1313.1C470.5,1313.1 472.0,1290.5 473.6,1264.2C474.2,1254.1 474.8,1227.8 475.4,1208.4C476.8,1165.6 478.1,1095.3 479.4,1072.7C480.8,1048.1 482.3,1025.0 483.7,1023.9C486.3,1022.0 488.9,1023.3 491.5,1021.2C492.4,1020.5 493.3,997.3 494.2,982.3C495.4,962.4 496.6,929.0 497.8,910.0C499.1,891.0 500.3,872.5 501.5,863.2C502.7,853.9 503.9,843.3 505.1,843.3C506.0,843.3 506.9,860.1 507.8,872.2C509.9,900.5 512.0,961.9 514.1,1000.4C515.9,1033.4 517.7,1072.2 519.5,1090.8C522.0,1115.7 524.4,1143.3 526.8,1143.3C529.2,1143.3 531.6,1095.9 534.0,1054.7C535.8,1023.8 537.6,970.4 539.4,910.0C540.6,869.7 541.9,804.6 543.1,754.7C544.3,704.7 545.5,657.0 546.7,610.0C547.0,595.9 547.4,576.4 547.8,568.5C548.8,545.4 549.9,525.1 550.9,525.1C552.0,525.1 553.0,541.7 554.1,568.5C554.3,574.6 554.6,599.4 554.8,610.0C556.3,676.5 557.8,699.4 559.3,754.7C560.5,798.9 561.7,858.4 562.9,908.4C564.2,958.3 565.4,1019.9 566.6,1054.7C569.0,1124.3 571.4,1181.1 573.8,1208.4C576.2,1235.7 578.6,1249.4 581.0,1264.2C584.6,1286.5 588.3,1299.2 591.9,1318.5C596.1,1341.0 600.3,1372.3 604.5,1390.8C608.8,1409.4 613.0,1424.2 617.2,1436.0C620.8,1446.2 624.4,1461.4 628.0,1461.4C632.3,1461.4 636.5,1412.9 640.7,1372.7C643.7,1344.1 646.7,1280.5 649.7,1246.2C651.0,1232.4 652.2,1223.6 653.4,1210.0C654.6,1196.4 655.8,1171.2 657.0,1163.2C658.5,1153.1 660.0,1143.3 661.5,1143.3C663.0,1143.3 664.5,1154.7 666.0,1163.2C668.0,1174.0 669.9,1182.6 671.8,1210.0C673.0,1227.1 674.2,1327.5 675.4,1354.7C677.2,1395.4 679.0,1422.3 680.8,1436.0C682.4,1447.5 683.9,1459.5 685.4,1459.5C686.9,1459.5 688.4,1433.9 689.9,1408.9C691.1,1388.9 692.3,1333.3 693.5,1300.4C694.7,1267.5 695.9,1259.7 697.1,1210.0C697.7,1185.1 698.3,1104.6 698.9,1054.7C699.5,1004.7 700.1,956.4 700.7,910.0C701.8,828.8 702.8,739.5 703.9,677.0C704.8,623.4 705.7,558.3 706.6,541.4C707.3,527.8 708.1,515.6 708.8,515.6C709.6,515.6 710.4,548.0 711.2,568.5C712.7,604.9 714.1,668.1 715.6,704.1C717.1,742.3 718.6,799.0 720.2,799.0C721.5,799.0 722.9,739.7 724.2,704.1C725.6,668.5 727.0,600.3 728.3,582.1C729.5,566.2 730.7,550.9 731.8,550.9C733.1,550.9 734.4,574.7 735.6,595.6C737.4,625.4 739.3,716.5 741.1,758.3C743.1,806.5 745.2,875.0 747.3,875.0C749.1,875.0 750.9,818.0 752.7,785.5C755.0,744.7 757.2,673.5 759.5,649.9C761.3,630.9 763.1,610.5 764.9,610.5C767.2,610.5 769.4,646.4 771.7,677.0C773.1,695.3 774.4,734.9 775.8,758.3C777.6,789.6 779.4,810.6 781.2,839.7C782.6,861.6 783.9,876.0 785.3,910.0C786.0,928.9 786.8,976.8 787.5,1000.4C788.7,1038.1 790.0,1056.8 791.2,1090.8C792.4,1124.9 793.6,1159.3 794.8,1208.4C795.4,1232.9 796.0,1281.8 796.6,1300.4C798.4,1356.4 800.2,1382.3 802.0,1408.9C803.8,1435.6 805.6,1460.0 807.4,1472.2C808.9,1482.4 810.4,1494.0 812.0,1494.0C828.7,1494.0 845.4,1494.0 862.2,1494.0C862.9,1494.0 863.6,1421.4 864.3,1396.8C865.4,1359.9 866.5,1338.4 867.6,1310.0C870.4,1235.3 873.3,1153.8 876.1,1090.8C877.4,1064.2 878.6,1027.5 879.8,1018.5C880.8,1010.8 881.8,1004.0 882.8,1004.0C884.2,1004.0 885.6,1043.3 887.0,1072.7C888.5,1104.7 890.0,1167.9 891.5,1208.4C893.0,1248.9 894.5,1286.1 896.0,1318.5C898.0,1361.3 900.0,1432.4 902.0,1432.4C903.6,1432.4 905.3,1361.5 906.9,1318.5C908.1,1286.7 909.3,1266.6 910.5,1210.0C911.1,1181.7 911.7,1095.0 912.3,1054.7C913.2,994.2 914.1,965.9 915.0,910.0C916.1,845.3 917.1,732.1 918.2,677.0C919.5,605.6 920.9,539.3 922.2,514.2C923.6,489.2 924.9,465.4 926.3,465.4C927.7,465.4 929.0,526.4 930.4,568.5C931.7,610.6 933.1,606.7 934.4,731.2C934.6,745.8 934.8,904.0 934.9,910.0C936.1,955.5 937.3,948.3 938.5,964.2C939.4,976.2 940.3,996.8 941.2,996.8C942.2,996.8 943.1,977.8 944.0,964.2C944.9,950.7 945.8,934.3 946.7,910.0C948.0,873.8 949.4,776.1 950.7,731.2C952.1,686.1 953.4,643.3 954.8,622.7C955.5,611.7 956.2,598.3 957.0,598.3C958.5,598.3 960.0,644.9 961.6,677.0C962.9,705.3 964.3,715.4 965.6,785.5C965.9,801.5 966.3,893.6 966.6,910.0C968.4,1005.4 970.2,1008.1 972.0,1054.7C973.2,1085.7 974.4,1110.8 975.6,1145.1C976.5,1170.8 977.4,1233.5 978.3,1233.5C979.5,1233.5 980.7,1197.1 981.9,1181.2C983.4,1161.4 984.9,1148.1 986.5,1127.0C988.9,1093.2 991.3,1045.7 993.7,1000.4C995.2,972.1 996.7,957.5 998.2,910.0C999.6,867.5 1000.9,709.9 1002.2,622.7C1003.2,564.2 1004.1,531.0 1005.0,460.0C1005.6,410.3 1006.2,298.4 1006.9,254.1C1007.8,190.8 1008.7,144.1 1009.6,118.5C1010.6,90.3 1011.6,60.2 1012.6,60.2C1013.5,60.2 1014.5,91.3 1015.5,118.5C1016.5,145.7 1017.5,155.5 1018.5,254.1C1018.7,272.0 1018.9,432.1 1019.1,460.0C1020.0,599.7 1020.9,611.3 1021.8,677.0C1023.0,762.4 1024.1,837.1 1025.3,910.0C1025.9,948.0 1026.5,996.3 1027.1,1018.5C1028.3,1062.2 1029.6,1107.1 1030.8,1107.1C1032.3,1107.1 1033.8,1062.0 1035.3,1045.6C1037.1,1025.9 1038.9,996.8 1040.7,996.8C1043.1,996.8 1045.5,1032.5 1047.9,1054.7C1050.3,1076.8 1052.8,1132.4 1055.2,1132.4C1057.0,1132.4 1058.8,1063.7 1060.6,1018.5C1061.8,988.4 1063.0,940.5 1064.2,910.0C1067.5,826.6 1070.8,779.7 1074.1,704.1C1075.9,662.7 1077.7,615.2 1079.5,568.5C1080.9,533.4 1082.3,491.5 1083.6,460.0C1084.5,439.0 1085.4,415.5 1086.3,403.3C1087.2,391.0 1088.1,376.2 1089.0,376.2C1089.9,376.2 1090.8,391.0 1091.8,403.3C1092.7,415.5 1093.6,432.8 1094.5,460.0C1095.8,500.8 1097.2,612.5 1098.5,704.1C1099.4,765.2 1100.3,848.3 1101.2,910.0C1102.9,1021.8 1104.5,1158.7 1106.2,1208.4C1107.7,1254.0 1109.2,1272.4 1110.7,1300.4C1111.6,1317.2 1112.5,1347.4 1113.4,1347.4C1114.6,1347.4 1115.8,1305.2 1117.0,1282.3C1118.2,1259.5 1119.4,1246.3 1120.6,1210.0C1122.1,1164.6 1123.6,1020.5 1125.2,910.0C1126.2,831.4 1127.3,730.1 1128.4,649.9C1129.3,582.1 1130.2,531.3 1131.1,460.0C1131.4,438.6 1131.6,398.8 1131.9,389.7C1132.5,368.5 1133.2,354.5 1133.8,354.5C1134.9,354.5 1136.0,374.5 1137.0,389.7C1138.2,406.1 1139.4,429.0 1140.6,460.0C1141.9,495.8 1143.3,576.2 1144.6,622.7C1146.0,669.2 1147.4,744.8 1148.7,744.8C1150.5,744.8 1152.3,631.5 1154.1,595.6C1155.9,559.8 1157.7,511.5 1159.6,511.5C1161.8,511.5 1164.1,557.7 1166.3,595.6C1168.1,626.0 1170.0,679.8 1171.8,731.2C1173.6,782.6 1175.4,832.4 1177.2,910.0C1178.8,980.4 1180.5,1075.9 1182.1,1208.4C1182.4,1232.7 1182.7,1286.8 1183.0,1300.4C1184.5,1368.3 1186.0,1385.0 1187.5,1408.9C1189.3,1437.6 1191.2,1461.4 1193.0,1472.2C1194.8,1483.0 1196.6,1494.0 1198.4,1494.0C1241.2,1494.0 1284.0,1494.0 1326.8,1494.0C1328.6,1494.0 1330.4,1469.8 1332.2,1445.1C1333.4,1428.6 1334.6,1391.8 1335.8,1354.7C1337.0,1317.6 1338.2,1250.7 1339.4,1210.0C1341.2,1149.0 1343.1,1096.8 1344.9,1054.7C1346.1,1026.6 1347.3,992.7 1348.5,982.3C1349.4,974.6 1350.3,967.0 1351.2,967.0C1352.4,967.0 1353.6,1006.1 1354.8,1036.6C1356.3,1074.6 1357.8,1157.6 1359.3,1208.4C1360.5,1249.0 1361.7,1286.4 1362.9,1318.5C1364.8,1366.7 1366.6,1421.6 1368.4,1445.1C1370.2,1468.6 1372.0,1494.0 1373.8,1494.0C1381.0,1494.0 1388.3,1494.0 1395.5,1494.0C1397.3,1494.0 1399.1,1468.6 1400.9,1445.1C1402.7,1421.6 1404.5,1366.4 1406.3,1318.5C1407.6,1286.6 1408.8,1252.6 1410.0,1210.0C1411.2,1167.4 1412.4,1099.6 1413.6,1054.7C1414.5,1020.9 1415.4,974.9 1416.3,964.2C1416.9,957.2 1417.5,950.7 1418.1,950.7C1419.3,950.7 1420.5,971.6 1421.7,982.3C1423.8,1001.2 1425.9,1040.2 1428.0,1040.2C1429.9,1040.2 1431.7,993.7 1433.5,973.3C1434.7,959.7 1435.9,935.3 1437.1,935.3C1438.3,935.3 1439.5,987.1 1440.7,1018.5C1441.9,1049.9 1443.1,1082.6 1444.3,1127.0C1444.9,1149.2 1445.5,1178.2 1446.1,1208.4C1446.8,1240.9 1447.4,1295.0 1448.1,1318.5C1449.3,1361.9 1450.5,1391.1 1451.7,1408.9C1452.9,1426.7 1454.1,1446.9 1455.3,1446.9C1457.1,1446.9 1458.9,1416.0 1460.7,1390.8C1461.9,1374.0 1463.2,1342.6 1464.4,1318.5C1465.6,1294.4 1466.8,1265.3 1468.0,1246.2C1468.9,1231.8 1469.8,1223.2 1470.7,1210.0C1472.2,1188.0 1473.7,1150.5 1475.2,1136.0C1477.0,1118.7 1478.8,1110.2 1480.6,1099.9C1482.4,1089.5 1484.2,1082.4 1486.1,1072.7C1487.9,1063.1 1489.7,1045.1 1491.5,1042.0C1493.3,1038.9 1495.1,1036.6 1496.9,1036.6C1499.3,1036.6 1501.7,1041.4 1504.1,1047.4C1505.9,1052.0 1507.8,1068.8 1509.6,1081.8C1511.4,1094.8 1513.2,1113.6 1515.0,1127.0C1516.8,1140.4 1518.6,1151.5 1520.4,1163.2C1522.8,1178.7 1525.2,1197.4 1527.6,1208.4C1529.5,1216.6 1531.3,1225.2 1533.1,1228.1C1535.5,1232.0 1537.9,1235.3 1540.3,1235.3C1542.4,1235.3 1544.5,1232.8 1546.6,1224.5C1546.9,1223.3 1547.2,1213.4 1547.5,1208.4C1549.3,1178.3 1551.2,1158.3 1553.0,1127.0C1554.2,1106.1 1555.4,1078.8 1556.6,1054.7C1557.8,1030.6 1559.0,1001.8 1560.2,982.3C1561.4,962.9 1562.6,940.2 1563.8,933.5C1565.6,923.4 1567.4,915.4 1569.2,915.4C1571.0,915.4 1572.9,925.8 1574.7,937.1C1575.9,944.7 1577.1,965.9 1578.3,982.3C1579.5,998.8 1580.7,1018.5 1581.9,1036.6C1583.1,1054.7 1584.3,1070.2 1585.5,1090.8C1586.7,1111.5 1587.9,1141.3 1589.1,1163.2C1590.0,1179.5 1590.9,1180.2 1591.8,1208.4C1592.1,1217.8 1592.4,1273.2 1592.7,1282.3C1594.7,1341.1 1596.6,1369.1 1598.5,1369.1C1600.2,1369.1 1601.9,1327.8 1603.6,1300.4C1605.1,1276.0 1606.6,1254.5 1608.1,1210.0C1608.7,1192.2 1609.3,1139.6 1609.9,1127.0C1611.1,1101.7 1612.3,1085.9 1613.5,1081.8C1614.7,1077.6 1616.0,1074.6 1617.2,1074.6C1618.7,1074.6 1620.2,1093.5 1621.7,1108.9C1622.9,1121.2 1624.1,1146.7 1625.3,1163.2C1626.5,1179.6 1627.7,1188.8 1628.9,1208.4C1630.0,1226.0 1631.1,1267.3 1632.2,1282.3C1634.1,1309.0 1636.0,1329.2 1638.0,1336.6C1638.5,1338.6 1639.0,1339.3 1639.5,1340.8C1642.1,1348.4 1644.6,1359.5 1647.1,1368.0C1650.0,1377.6 1652.9,1386.5 1655.8,1395.1C1658.3,1402.6 1660.9,1410.8 1663.4,1416.8C1667.0,1425.4 1670.6,1431.6 1674.2,1438.5C1677.9,1445.3 1681.5,1452.3 1685.1,1458.0C1688.7,1463.7 1692.3,1468.4 1695.9,1473.2C1698.8,1477.0 1701.7,1481.9 1704.6,1484.1C1706.8,1485.7 1709.0,1487.5 1711.1,1487.5C1713.3,1487.5 1715.5,1485.5 1717.6,1484.1C1721.3,1481.6 1724.9,1476.8 1728.5,1473.2C1732.1,1469.6 1735.7,1466.3 1739.3,1462.4C1743.0,1458.4 1746.6,1453.3 1750.2,1449.3C1753.8,1445.4 1757.4,1442.1 1761.0,1438.5C1764.7,1434.9 1768.3,1431.3 1771.9,1427.6C1775.5,1424.0 1779.1,1420.7 1782.7,1416.8C1786.4,1412.9 1790.0,1408.6 1793.6,1403.8C1796.5,1399.9 1799.4,1397.4 1802.3,1390.8C1803.7,1387.4 1805.2,1380.7 1806.6,1373.4C1807.7,1367.9 1808.8,1360.5 1809.9,1351.7C1811.7,1336.9 1813.5,1296.4 1815.3,1291.4C1817.7,1284.8 1820.1,1280.5 1822.5,1280.5C1824.7,1280.5 1826.8,1293.4 1828.9,1296.8C1830.4,1299.2 1831.9,1302.2 1833.4,1302.2C1837.0,1302.2 1840.6,1289.6 1844.2,1289.6C1846.7,1289.6 1849.1,1296.6 1851.5,1304.0C1853.3,1309.6 1855.1,1328.1 1856.9,1336.6C1859.3,1347.8 1861.7,1356.1 1864.1,1363.7C1866.6,1371.4 1869.0,1379.5 1871.4,1383.6C1874.4,1388.7 1877.4,1390.9 1880.4,1394.4C1884.0,1398.7 1887.6,1404.0 1891.3,1407.1C1894.9,1410.2 1898.5,1411.4 1902.1,1414.3C1905.7,1417.2 1909.3,1422.3 1913.0,1425.2C1916.6,1428.1 1920.2,1430.0 1923.8,1432.4C1927.4,1434.8 1931.0,1437.2 1934.7,1439.7C1938.3,1442.1 1941.9,1446.9 1945.5,1446.9C1949.1,1446.9 1952.7,1446.9 1956.4,1446.9C1960.0,1446.9 1963.6,1451.8 1967.2,1452.3C1970.8,1452.8 1974.4,1452.6 1978.1,1453.2C1980.5,1453.6 1982.9,1459.2 1985.3,1459.5C1988.9,1460.1 1992.5,1459.9 1996.1,1460.5C1999.8,1461.0 2003.4,1466.8 2007.0,1466.8C2010.6,1466.8 2014.2,1466.8 2017.8,1466.8C2020.9,1466.8 2023.9,1470.4 2026.9,1470.4C2030.0,1470.4 2033.2,1468.3 2036.3,1465.0C2038.1,1463.1 2039.9,1455.1 2041.8,1446.0C2043.1,1439.2 2044.5,1418.2 2045.8,1412.1C2047.6,1403.9 2049.4,1397.2 2051.3,1395.8C2053.3,1394.2 2055.3,1393.1 2057.4,1393.1C2059.8,1393.1 2062.3,1395.6 2064.8,1398.5C2066.6,1400.6 2068.4,1405.9 2070.2,1412.1C2071.6,1416.7 2073.0,1424.7 2074.3,1432.4C2075.7,1440.2 2077.0,1453.8 2078.4,1459.5C2080.2,1467.2 2082.0,1473.4 2083.8,1475.8C2086.5,1479.5 2089.2,1481.5 2091.9,1482.6C2095.6,1484.0 2099.2,1484.9 2102.8,1485.3C2106.4,1485.7 2110.0,1486.0 2113.6,1486.0C2117.3,1486.0 2120.9,1485.1 2124.5,1484.0C2127.2,1483.1 2129.9,1480.6 2132.6,1477.2C2134.9,1474.3 2137.2,1465.8 2139.4,1459.5C2141.7,1453.2 2143.9,1445.2 2146.2,1439.2C2148.5,1433.2 2150.7,1427.8 2153.0,1422.9C2155.2,1418.0 2157.5,1413.4 2159.8,1409.4C2162.0,1405.3 2164.3,1402.8 2166.5,1398.5C2168.8,1394.2 2171.1,1389.4 2173.3,1382.2C2175.1,1376.5 2176.9,1368.0 2178.7,1357.8C2180.1,1350.2 2181.5,1335.4 2182.8,1328.0C2184.2,1320.6 2185.5,1312.9 2186.9,1310.3C2188.0,1308.3 2189.1,1306.3 2190.3,1306.3C2192.3,1306.3 2194.3,1315.9 2196.4,1321.2C2198.2,1325.9 2200.0,1336.1 2201.8,1336.1C2203.6,1336.1 2205.4,1324.1 2207.2,1317.1C2209.0,1310.2 2210.8,1294.1 2212.7,1294.1C2214.9,1294.1 2217.2,1309.6 2219.4,1317.1C2221.2,1323.1 2223.1,1332.7 2224.9,1334.8C2227.6,1337.9 2230.3,1337.0 2233.0,1340.2C2234.8,1342.3 2236.6,1348.7 2238.4,1357.8C2239.8,1364.6 2241.1,1384.9 2242.5,1398.5C2243.8,1412.1 2245.2,1426.9 2246.6,1439.2C2247.9,1451.5 2249.3,1466.6 2250.6,1473.1C2252.0,1479.6 2253.3,1485.9 2254.7,1486.7C2259.9,1489.7 2265.1,1490.7 2270.3,1490.7"/>
</g>
</g>
<g shape-rendering="crispEdges">
<rect x="285" y="1490" width="1983" height="4" fill="#86c886"/>
<rect x="285" y="1494" width="1983" height="4" fill="#0f3a0f"/>
<rect x="285.0" y="1490" width="27.0" height="4" fill="#3358c0"/>
<rect x="285.0" y="1494" width="27.0" height="4" fill="#141450"/>
<rect x="573.0" y="1490" width="117.0" height="4" fill="#3358c0"/>
<rect x="573.0" y="1494" width="117.0" height="4" fill="#141450"/>
<rect x="1337.0" y="1490" width="28.0" height="4" fill="#3358c0"/>
<rect x="1337.0" y="1494" width="28.0" height="4" fill="#141450"/>
<rect x="1408.0" y="1490" width="41.0" height="4" fill="#3358c0"/>
<rect x="1408.0" y="1494" width="41.0" height="4" fill="#141450"/>
<rect x="1808.0" y="1490" width="25.0" height="4" fill="#3358c0"/>
<rect x="1808.0" y="1494" width="25.0" height="4" fill="#141450"/>
</g>
<g filter="url(#soft)">
<g fill="none" stroke-linejoin="round" stroke-linecap="butt">
<path stroke="#008000" stroke-width="11.0" stroke-opacity="0.22" d="M1334.0,1494.0C1336.4,1487.0 1338.8,1479.7 1341.2,1472.2C1342.8,1467.5 1344.3,1461.1 1345.8,1457.7C1347.2,1454.6 1348.5,1450.5 1349.9,1450.5C1351.4,1450.5 1352.8,1454.7 1354.3,1457.7C1356.0,1461.3 1357.6,1467.3 1359.3,1472.2C1361.7,1479.3 1364.2,1486.5 1366.6,1494.0"/>
<path stroke="#008000" stroke-width="4.0" d="M1334.0,1494.0C1336.4,1487.0 1338.8,1479.7 1341.2,1472.2C1342.8,1467.5 1344.3,1461.1 1345.8,1457.7C1347.2,1454.6 1348.5,1450.5 1349.9,1450.5C1351.4,1450.5 1352.8,1454.7 1354.3,1457.7C1356.0,1461.3 1357.6,1467.3 1359.3,1472.2C1361.7,1479.3 1364.2,1486.5 1366.6,1494.0"/>
<path stroke="#008000" stroke-width="11.0" stroke-opacity="0.22" d="M1404.5,1494.0C1406.9,1483.7 1409.4,1475.3 1411.8,1472.2C1413.6,1469.9 1415.4,1467.7 1417.2,1467.7C1420.8,1467.7 1424.4,1470.4 1428.0,1470.4C1431.1,1470.4 1434.1,1466.8 1437.1,1466.8C1438.9,1466.8 1440.7,1469.6 1442.5,1472.2C1444.9,1475.7 1447.3,1484.0 1449.7,1494.0"/>
<path stroke="#008000" stroke-width="4.0" d="M1404.5,1494.0C1406.9,1483.7 1409.4,1475.3 1411.8,1472.2C1413.6,1469.9 1415.4,1467.7 1417.2,1467.7C1420.8,1467.7 1424.4,1470.4 1428.0,1470.4C1431.1,1470.4 1434.1,1466.8 1437.1,1466.8C1438.9,1466.8 1440.7,1469.6 1442.5,1472.2C1444.9,1475.7 1447.3,1484.0 1449.7,1494.0"/>
<path stroke="#008000" stroke-width="11.0" stroke-opacity="0.22" d="M1805.4,1494.0C1808.1,1489.5 1810.8,1485.2 1813.5,1481.2C1815.9,1477.7 1818.3,1471.3 1820.7,1471.3C1823.2,1471.3 1825.6,1477.7 1828.0,1481.2C1830.7,1485.2 1833.4,1489.5 1836.1,1494.0"/>
<path stroke="#008000" stroke-width="4.0" d="M1805.4,1494.0C1808.1,1489.5 1810.8,1485.2 1813.5,1481.2C1815.9,1477.7 1818.3,1471.3 1820.7,1471.3C1823.2,1471.3 1825.6,1477.7 1828.0,1481.2C1830.7,1485.2 1833.4,1489.5 1836.1,1494.0"/>
<path stroke="#008000" stroke-width="11.0" stroke-opacity="0.22" d="M2037.7,1494.0C2039.9,1492.2 2042.2,1490.2 2044.5,1489.6C2049.0,1488.5 2053.5,1487.7 2058.0,1487.7C2062.6,1487.7 2067.1,1488.5 2071.6,1489.6C2073.9,1490.2 2076.1,1492.2 2078.4,1494.0"/>
<path stroke="#008000" stroke-width="4.0" d="M2037.7,1494.0C2039.9,1492.2 2042.2,1490.2 2044.5,1489.6C2049.0,1488.5 2053.5,1487.7 2058.0,1487.7C2062.6,1487.7 2067.1,1488.5 2071.6,1489.6C2073.9,1490.2 2076.1,1492.2 2078.4,1494.0"/>
<path stroke="#008000" stroke-width="11.0" stroke-opacity="0.22" d="M2124.5,1494.0C2126.8,1490.7 2129.0,1487.7 2131.3,1485.3C2133.5,1482.9 2135.8,1479.2 2138.1,1479.2C2140.3,1479.2 2142.6,1483.1 2144.8,1485.3C2147.5,1488.0 2150.3,1490.9 2153.0,1494.0"/>
<path stroke="#008000" stroke-width="4.0" d="M2124.5,1494.0C2126.8,1490.7 2129.0,1487.7 2131.3,1485.3C2133.5,1482.9 2135.8,1479.2 2138.1,1479.2C2140.3,1479.2 2142.6,1483.1 2144.8,1485.3C2147.5,1488.0 2150.3,1490.9 2153.0,1494.0"/>
</g>
<text><tspan x="246.3" y="1590.0" font-size="53.0" textLength="33.59" lengthAdjust="spacingAndGlyphs" fill="#707070">-</tspan><tspan x="279.9" y="1600.0" font-size="66.0" textLength="29.84" lengthAdjust="spacingAndGlyphs">6</tspan></text>
<text><tspan x="445.3" y="1590.0" font-size="53.0" textLength="33.59" lengthAdjust="spacingAndGlyphs" fill="#707070">-</tspan><tspan x="477.9" y="1600.0" font-size="66.0" textLength="31.65" lengthAdjust="spacingAndGlyphs">5</tspan></text>
<text><tspan x="644.4" y="1590.0" font-size="53.0" textLength="33.59" lengthAdjust="spacingAndGlyphs" fill="#707070">-</tspan><tspan x="679.6" y="1600.0" font-size="66.0" textLength="27.43" lengthAdjust="spacingAndGlyphs">4</tspan></text>
<text><tspan x="843.5" y="1590.0" font-size="53.0" textLength="33.59" lengthAdjust="spacingAndGlyphs" fill="#707070">-</tspan><tspan x="876.8" y="1600.0" font-size="66.0" textLength="30.87" lengthAdjust="spacingAndGlyphs">3</tspan></text>
<text><tspan x="1042.5" y="1590.0" font-size="53.0" textLength="33.59" lengthAdjust="spacingAndGlyphs" fill="#707070">-</tspan><tspan x="1076.0" y="1600.0" font-size="66.0" textLength="31.81" lengthAdjust="spacingAndGlyphs">2</tspan></text>
<text><tspan x="1241.6" y="1590.0" font-size="53.0" textLength="33.59" lengthAdjust="spacingAndGlyphs" fill="#707070">-</tspan><tspan x="1277.2" y="1600.0" font-size="66.0" textLength="26.27" lengthAdjust="spacingAndGlyphs">1</tspan></text>
<text><tspan x="1458.8" y="1600.0" font-size="66.0" textLength="31.14" lengthAdjust="spacingAndGlyphs">0</tspan></text>
<text><tspan x="1659.4" y="1600.0" font-size="66.0" textLength="27.55" lengthAdjust="spacingAndGlyphs">1</tspan></text>
<text><tspan x="1856.5" y="1600.0" font-size="66.0" textLength="32.93" lengthAdjust="spacingAndGlyphs">2</tspan></text>
<text><tspan x="2055.4" y="1600.0" font-size="66.0" textLength="31.95" lengthAdjust="spacingAndGlyphs">3</tspan></text>
<text><tspan x="2256.4" y="1600.0" font-size="66.0" textLength="28.40" lengthAdjust="spacingAndGlyphs">4</tspan></text>
<text><tspan x="199.3" y="1520.5" font-size="66.0" textLength="28.31" lengthAdjust="spacingAndGlyphs">0</tspan></text>
<text><tspan x="198.0" y="1228.0" font-size="66.0" textLength="29.79" lengthAdjust="spacingAndGlyphs">5</tspan></text>
<text><tspan x="167.6" y="935.4" font-size="66.0" textLength="27.13" lengthAdjust="spacingAndGlyphs">1</tspan><tspan x="199.3" y="935.4" font-size="66.0" textLength="28.31" lengthAdjust="spacingAndGlyphs">0</tspan></text>
<text><tspan x="167.6" y="642.9" font-size="66.0" textLength="27.13" lengthAdjust="spacingAndGlyphs">1</tspan><tspan x="198.0" y="642.9" font-size="66.0" textLength="29.79" lengthAdjust="spacingAndGlyphs">5</tspan></text>
<text><tspan x="166.2" y="350.3" font-size="66.0" textLength="30.68" lengthAdjust="spacingAndGlyphs">2</tspan><tspan x="199.3" y="350.3" font-size="66.0" textLength="28.31" lengthAdjust="spacingAndGlyphs">0</tspan></text>
<text><tspan x="166.2" y="57.8" font-size="66.0" textLength="30.68" lengthAdjust="spacingAndGlyphs">2</tspan><tspan x="198.0" y="57.8" font-size="66.0" textLength="29.79" lengthAdjust="spacingAndGlyphs">5</tspan></text>
<text><tspan x="1898.5" y="268.5" font-size="80.5" textLength="40.31" lengthAdjust="spacingAndGlyphs">C</tspan><tspan x="1950.4" y="260.0" font-size="80.5" textLength="27.23" lengthAdjust="spacingAndGlyphs">(</tspan><tspan x="1978.2" y="268.5" font-size="80.5" textLength="38.04" lengthAdjust="spacingAndGlyphs">2</tspan><tspan x="2021.6" y="268.5" font-size="80.5" textLength="32.43" lengthAdjust="spacingAndGlyphs">s</tspan><tspan x="2058.9" y="260.0" font-size="80.5" textLength="23.34" lengthAdjust="spacingAndGlyphs">)</tspan></text>
<text><tspan x="1898.5" y="355.5" font-size="80.5" textLength="40.31" lengthAdjust="spacingAndGlyphs">C</tspan><tspan x="1950.4" y="347.0" font-size="80.5" textLength="27.23" lengthAdjust="spacingAndGlyphs">(</tspan><tspan x="1978.2" y="355.5" font-size="80.5" textLength="38.04" lengthAdjust="spacingAndGlyphs">2</tspan><tspan x="2019.8" y="355.5" font-size="80.5" textLength="37.66" lengthAdjust="spacingAndGlyphs">p</tspan><tspan x="2058.9" y="347.0" font-size="80.5" textLength="23.34" lengthAdjust="spacingAndGlyphs">)</tspan></text>
<text><tspan x="1896.9" y="442.5" font-size="80.5" textLength="40.18" lengthAdjust="spacingAndGlyphs">N</tspan><tspan x="1950.4" y="434.0" font-size="80.5" textLength="27.23" lengthAdjust="spacingAndGlyphs">(</tspan><tspan x="1978.2" y="442.5" font-size="80.5" textLength="38.04" lengthAdjust="spacingAndGlyphs">2</tspan><tspan x="2021.6" y="442.5" font-size="80.5" textLength="32.43" lengthAdjust="spacingAndGlyphs">s</tspan><tspan x="2058.9" y="434.0" font-size="80.5" textLength="23.34" lengthAdjust="spacingAndGlyphs">)</tspan></text>
<text><tspan x="1896.9" y="529.5" font-size="80.5" textLength="40.18" lengthAdjust="spacingAndGlyphs">N</tspan><tspan x="1950.4" y="521.0" font-size="80.5" textLength="27.23" lengthAdjust="spacingAndGlyphs">(</tspan><tspan x="1978.2" y="529.5" font-size="80.5" textLength="38.04" lengthAdjust="spacingAndGlyphs">2</tspan><tspan x="2019.8" y="529.5" font-size="80.5" textLength="37.66" lengthAdjust="spacingAndGlyphs">p</tspan><tspan x="2058.9" y="521.0" font-size="80.5" textLength="23.34" lengthAdjust="spacingAndGlyphs">)</tspan></text>
<text><tspan x="1899.3" y="616.5" font-size="80.5" textLength="39.55" lengthAdjust="spacingAndGlyphs">L</tspan><tspan x="1947.9" y="616.5" font-size="80.5" textLength="21.03" lengthAdjust="spacingAndGlyphs">i</tspan><tspan x="1989.6" y="608.0" font-size="80.5" textLength="27.49" lengthAdjust="spacingAndGlyphs">(</tspan><tspan x="2017.7" y="616.5" font-size="80.5" textLength="37.42" lengthAdjust="spacingAndGlyphs">2</tspan><tspan x="2061.3" y="616.5" font-size="80.5" textLength="32.43" lengthAdjust="spacingAndGlyphs">s</tspan><tspan x="2098.9" y="608.0" font-size="80.5" textLength="23.34" lengthAdjust="spacingAndGlyphs">)</tspan></text>
<text><tspan x="1077.3" y="1704.0" font-size="81.0" textLength="40.86" lengthAdjust="spacingAndGlyphs">E</tspan><tspan x="1117.4" y="1704.0" font-size="81.0" textLength="37.45" lengthAdjust="spacingAndGlyphs">n</tspan><tspan x="1158.6" y="1704.0" font-size="81.0" textLength="35.86" lengthAdjust="spacingAndGlyphs">e</tspan><tspan x="1199.1" y="1704.0" font-size="81.0" textLength="30.21" lengthAdjust="spacingAndGlyphs">r</tspan><tspan x="1236.5" y="1704.0" font-size="81.0" textLength="37.33" lengthAdjust="spacingAndGlyphs">g</tspan><tspan x="1277.8" y="1704.0" font-size="81.0" textLength="33.79" lengthAdjust="spacingAndGlyphs">y</tspan><tspan x="1329.5" y="1695.5" font-size="81.0" textLength="23.99" lengthAdjust="spacingAndGlyphs">(</tspan><tspan x="1354.9" y="1704.0" font-size="81.0" textLength="38.13" lengthAdjust="spacingAndGlyphs">e</tspan><tspan x="1396.7" y="1704.0" font-size="81.0" textLength="34.78" lengthAdjust="spacingAndGlyphs">V</tspan><tspan x="1435.8" y="1695.5" font-size="81.0" textLength="23.99" lengthAdjust="spacingAndGlyphs">)</tspan></text>
<text transform="translate(71.5,841.0) rotate(-90)"><tspan x="-0.5" y="0.0" font-size="81.0" textLength="37.21" lengthAdjust="spacingAndGlyphs">P</tspan><tspan x="38.7" y="0.0" font-size="81.0" textLength="37.14" lengthAdjust="spacingAndGlyphs">D</tspan><tspan x="77.5" y="0.0" font-size="81.0" textLength="40.05" lengthAdjust="spacingAndGlyphs">O</tspan><tspan x="115.3" y="0.0" font-size="81.0" textLength="42.70" lengthAdjust="spacingAndGlyphs">S</tspan></text>
</g>
<g shape-rendering="crispEdges">
<rect x="1700.5" y="238" width="160" height="4" fill="#222222"/>
<rect x="1700.5" y="242" width="160" height="4" fill="#707070"/>
<rect x="1700.5" y="322" width="160" height="4" fill="#ffcccc"/>
<rect x="1700.5" y="326" width="160" height="4" fill="#ff0000"/>
<rect x="1700.5" y="330" width="160" height="4" fill="#ffbbbb"/>
<rect x="1700.5" y="410" width="160" height="4" fill="#8080ff"/>
<rect x="1700.5" y="414" width="160" height="4" fill="#1010ff"/>
<rect x="1700.5" y="418" width="160" height="4" fill="#eeeeff"/>
<rect x="1700.5" y="498" width="160" height="4" fill="#ff33ff"/>
<rect x="1700.5" y="502" width="160" height="4" fill="#ff40ff"/>
<rect x="1700.5" y="582" width="160" height="4" fill="#e0f0e0"/>
<rect x="1700.5" y="586" width="160" height="4" fill="#0a800a"/>
<rect x="1700.5" y="590" width="160" height="4" fill="#80c080"/>
</g>
</svg></body></html>
